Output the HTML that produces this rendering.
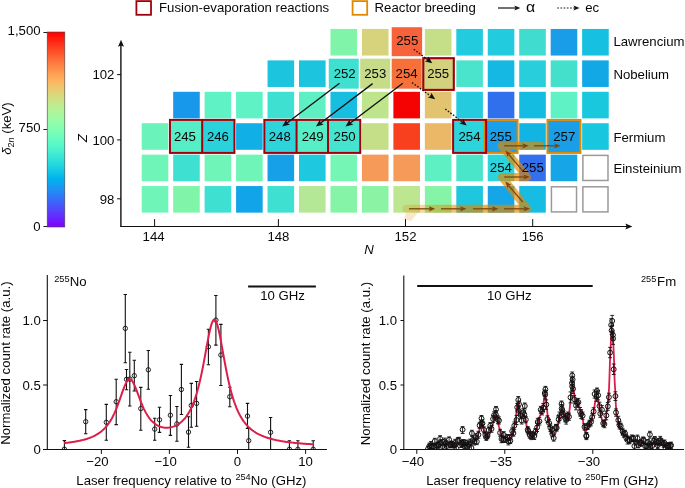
<!DOCTYPE html><html><head><meta charset="utf-8"><style>html,body{margin:0;padding:0;background:#fff;}svg{display:block;will-change:transform;}text{font-family:"Liberation Sans",sans-serif;fill:#080808;}</style></head><body>
<svg width="685" height="488" viewBox="0 0 685 488">
<defs><linearGradient id="cb" x1="0" y1="0" x2="0" y2="1"><stop offset="0.00" stop-color="#ff0000"/><stop offset="0.05" stop-color="#ff2814"/><stop offset="0.10" stop-color="#ff4f28"/><stop offset="0.15" stop-color="#ff743c"/><stop offset="0.20" stop-color="#ff964f"/><stop offset="0.25" stop-color="#ffb462"/><stop offset="0.30" stop-color="#e5ce74"/><stop offset="0.35" stop-color="#cce385"/><stop offset="0.40" stop-color="#b3f396"/><stop offset="0.45" stop-color="#99fca6"/><stop offset="0.50" stop-color="#80ffb4"/><stop offset="0.55" stop-color="#66fcc2"/><stop offset="0.60" stop-color="#4df3ce"/><stop offset="0.65" stop-color="#33e3d9"/><stop offset="0.70" stop-color="#1acee3"/><stop offset="0.75" stop-color="#00b4ec"/><stop offset="0.80" stop-color="#1a96f3"/><stop offset="0.85" stop-color="#3374f8"/><stop offset="0.90" stop-color="#4d4ffc"/><stop offset="0.95" stop-color="#6628fe"/><stop offset="1.00" stop-color="#8000ff"/></linearGradient><linearGradient id="bandfade" gradientUnits="userSpaceOnUse" x1="402" y1="0" x2="475" y2="0"><stop offset="0" stop-color="#e08800" stop-opacity="0.22"/><stop offset="1" stop-color="#e08800" stop-opacity="0.66"/></linearGradient><clipPath id="cl"><rect x="47.3" y="270" width="280" height="179.3"/></clipPath><clipPath id="cr"><rect x="403.8" y="270" width="280" height="179.3"/></clipPath></defs>
<rect x="47.2" y="32" width="17.6" height="195" fill="url(#cb)" stroke="#444" stroke-width="0.6"/>
<line x1="43.4" y1="32.5" x2="47.2" y2="32.5" stroke="#222" stroke-width="1"/>
<text x="40.6" y="35.2" font-size="13.2" text-anchor="end">1,500</text>
<line x1="43.4" y1="129.5" x2="47.2" y2="129.5" stroke="#222" stroke-width="1"/>
<text x="40.6" y="132.0" font-size="13.2" text-anchor="end">750</text>
<line x1="43.4" y1="226.5" x2="47.2" y2="226.5" stroke="#222" stroke-width="1"/>
<text x="40.6" y="230.9" font-size="13.2" text-anchor="end">0</text>
<text transform="translate(10.6,128.5) rotate(-90)" font-size="13.2" text-anchor="middle"><tspan font-style="italic">δ</tspan><tspan font-size="9" dy="3">2</tspan><tspan font-size="9" font-style="italic">n</tspan><tspan dy="-3"> (keV)</tspan></text>
<rect x="136.4" y="1.1" width="14.6" height="13.7" fill="none" stroke="#a0000e" stroke-width="1.8"/>
<text x="159" y="11.7" font-size="13.2">Fusion-evaporation reactions</text>
<rect x="352.6" y="1.1" width="14.6" height="13.7" fill="none" stroke="#e08a00" stroke-width="1.8"/>
<text x="374.6" y="11.7" font-size="13.2">Reactor breeding</text>
<line x1="498.0" y1="8.0" x2="515.5" y2="8.0" stroke="#111" stroke-width="1.2"/><path d="M520.3,8.0 L514.3,10.6 L515.5,8.0 L514.3,5.4Z" fill="#111"/>
<text transform="translate(526,11.7) scale(1.15,1)" x="0" y="0" font-size="13.8">α</text>
<line x1="557.3" y1="8.0" x2="574.7" y2="8.0" stroke="#111" stroke-width="1.2" stroke-dasharray="1.6,1.6"/><path d="M579.5,8.0 L573.5,10.6 L574.7,8.0 L573.5,5.4Z" fill="#111"/>
<text x="585.2" y="11.7" font-size="13.2">ec</text>
<rect x="330.46" y="28.95" width="26.6" height="26.6" fill="#80f5aa"/>
<rect x="361.92" y="28.95" width="26.6" height="26.6" fill="#d6d37c"/>
<rect x="391.7" y="27.2" width="30.4" height="29" fill="#f8623a"/>
<rect x="424.84" y="28.95" width="26.6" height="26.6" fill="#c4df88"/>
<rect x="456.30" y="28.95" width="26.6" height="26.6" fill="#22cbdd"/>
<rect x="487.76" y="28.95" width="26.6" height="26.6" fill="#22cbdd"/>
<rect x="519.22" y="28.95" width="26.6" height="26.6" fill="#40dccf"/>
<rect x="550.68" y="28.95" width="26.6" height="26.6" fill="#1a9de8"/>
<rect x="582.14" y="28.95" width="26.6" height="26.6" fill="#16c0e0"/>
<rect x="267.54" y="60.37" width="26.6" height="26.6" fill="#1cc4de"/>
<rect x="299.00" y="60.37" width="26.6" height="26.6" fill="#1cc4de"/>
<rect x="328.76" y="58.67" width="30" height="30" fill="#40e0d0"/>
<rect x="360.22" y="58.67" width="30" height="30" fill="#c6dc88"/>
<rect x="391.68" y="58.67" width="30" height="30" fill="#f6703a"/>
<rect x="422.14" y="57.67" width="32" height="32" fill="#d2d27e"/>
<rect x="456.30" y="60.37" width="26.6" height="26.6" fill="#4ae4cc"/>
<rect x="487.76" y="60.37" width="26.6" height="26.6" fill="#14b8e2"/>
<rect x="519.22" y="60.37" width="26.6" height="26.6" fill="#28cedc"/>
<rect x="550.68" y="60.37" width="26.6" height="26.6" fill="#44e0cc"/>
<rect x="582.14" y="60.37" width="26.6" height="26.6" fill="#12a8e6"/>
<rect x="173.16" y="91.79" width="26.6" height="26.6" fill="#1898ea"/>
<rect x="204.62" y="91.79" width="26.6" height="26.6" fill="#5ef2c4"/>
<rect x="236.08" y="91.79" width="26.6" height="26.6" fill="#5ef2c4"/>
<rect x="267.54" y="91.79" width="26.6" height="26.6" fill="#3ee0d2"/>
<rect x="299.00" y="91.79" width="26.6" height="26.6" fill="#5eefc2"/>
<rect x="330.46" y="91.79" width="26.6" height="26.6" fill="#18bee0"/>
<rect x="361.92" y="91.79" width="26.6" height="26.6" fill="#bee48c"/>
<rect x="393.38" y="91.79" width="26.6" height="26.6" fill="#f50202"/>
<rect x="424.84" y="91.79" width="26.6" height="26.6" fill="#e2c470"/>
<rect x="456.30" y="91.79" width="26.6" height="26.6" fill="#24cadd"/>
<rect x="487.76" y="91.79" width="26.6" height="26.6" fill="#3070ec"/>
<rect x="519.22" y="91.79" width="26.6" height="26.6" fill="#14bce2"/>
<rect x="550.68" y="91.79" width="26.6" height="26.6" fill="#5ef2c4"/>
<rect x="582.14" y="91.79" width="26.6" height="26.6" fill="#1ac8de"/>
<rect x="141.70" y="123.21" width="26.6" height="26.6" fill="#6af4bc"/>
<rect x="170.46" y="120.51" width="32" height="32" fill="#56eec6"/>
<rect x="201.92" y="120.51" width="32" height="32" fill="#2ad2dc"/>
<rect x="236.08" y="123.21" width="26.6" height="26.6" fill="#10b0e6"/>
<rect x="264.84" y="120.51" width="32" height="32" fill="#2ed4db"/>
<rect x="296.30" y="120.51" width="32" height="32" fill="#56eec6"/>
<rect x="327.76" y="120.51" width="32" height="32" fill="#44e4cf"/>
<rect x="361.92" y="123.21" width="26.6" height="26.6" fill="#c4df88"/>
<rect x="393.38" y="123.21" width="26.6" height="26.6" fill="#f8401f"/>
<rect x="424.84" y="123.21" width="26.6" height="26.6" fill="#eab866"/>
<rect x="453.60" y="120.51" width="32" height="32" fill="#2ed4db"/>
<rect x="485.06" y="120.51" width="32" height="32" fill="#1aa0e8"/>
<rect x="519.22" y="123.21" width="26.6" height="26.6" fill="#12b4e4"/>
<rect x="547.98" y="120.51" width="32" height="32" fill="#1a9ee8"/>
<rect x="582.14" y="123.21" width="26.6" height="26.6" fill="#18c6df"/>
<rect x="141.70" y="154.63" width="26.6" height="26.6" fill="#70f5b8"/>
<rect x="173.16" y="154.63" width="26.6" height="26.6" fill="#3ee0d2"/>
<rect x="204.62" y="154.63" width="26.6" height="26.6" fill="#70f5b8"/>
<rect x="236.08" y="154.63" width="26.6" height="26.6" fill="#70f5b8"/>
<rect x="267.54" y="154.63" width="26.6" height="26.6" fill="#16a0e8"/>
<rect x="299.00" y="154.63" width="26.6" height="26.6" fill="#1ec8de"/>
<rect x="330.46" y="154.63" width="26.6" height="26.6" fill="#76f6b4"/>
<rect x="361.92" y="154.63" width="26.6" height="26.6" fill="#f59a58"/>
<rect x="393.38" y="154.63" width="26.6" height="26.6" fill="#f59a58"/>
<rect x="424.84" y="154.63" width="26.6" height="26.6" fill="#5ef0c2"/>
<rect x="456.30" y="154.63" width="26.6" height="26.6" fill="#4ae6ca"/>
<rect x="487.76" y="154.63" width="26.6" height="26.6" fill="#2ed4db"/>
<rect x="519.22" y="154.63" width="26.6" height="26.6" fill="#3470ec"/>
<rect x="550.68" y="154.63" width="26.6" height="26.6" fill="#16a6e7"/>
<rect x="582.89" y="155.38" width="25.1" height="25.1" fill="#fff" stroke="#9a9a9a" stroke-width="1.5"/>
<rect x="141.70" y="186.05" width="26.6" height="26.6" fill="#70f5b8"/>
<rect x="173.16" y="186.05" width="26.6" height="26.6" fill="#80f5aa"/>
<rect x="204.62" y="186.05" width="26.6" height="26.6" fill="#3ee0d2"/>
<rect x="236.08" y="186.05" width="26.6" height="26.6" fill="#12a4e8"/>
<rect x="267.54" y="186.05" width="26.6" height="26.6" fill="#3ee0d2"/>
<rect x="299.00" y="186.05" width="26.6" height="26.6" fill="#b4e896"/>
<rect x="330.46" y="186.05" width="26.6" height="26.6" fill="#86f4a6"/>
<rect x="361.92" y="186.05" width="26.6" height="26.6" fill="#8af4a4"/>
<rect x="393.38" y="186.05" width="26.6" height="26.6" fill="#bce690"/>
<rect x="424.84" y="186.05" width="26.6" height="26.6" fill="#86f4a6"/>
<rect x="456.30" y="186.05" width="26.6" height="26.6" fill="#1ec6de"/>
<rect x="487.76" y="186.05" width="26.6" height="26.6" fill="#16a6e7"/>
<rect x="519.22" y="186.05" width="26.6" height="26.6" fill="#16bce2"/>
<rect x="551.43" y="186.80" width="25.1" height="25.1" fill="#fff" stroke="#9a9a9a" stroke-width="1.5"/>
<rect x="582.89" y="186.80" width="25.1" height="25.1" fill="#fff" stroke="#9a9a9a" stroke-width="1.5"/>
<path d="M406,213 L417.5,213 L411,221 L404,219Z" fill="#fbe6cc"/>
<path d="M406.4,208.8 H527 L502,177 H527 L501.6,145.8 H540" fill="none" stroke="url(#bandfade)" stroke-width="8" stroke-linejoin="round" stroke-linecap="round"/>
<rect x="484.56" y="119.91" width="33.00" height="33" fill="none" stroke="#e08a00" stroke-width="2.0"/>
<rect x="547.48" y="119.91" width="33.00" height="33" fill="none" stroke="#e08a00" stroke-width="2.0"/>
<rect x="169.96" y="119.91" width="64.46" height="33" fill="none" stroke="#a0000e" stroke-width="2.0"/><line x1="202.19" y1="119.91" x2="202.19" y2="152.91" stroke="#a0000e" stroke-width="2.0"/>
<rect x="264.34" y="119.91" width="95.92" height="33" fill="none" stroke="#a0000e" stroke-width="2.0"/><line x1="296.57" y1="119.91" x2="296.57" y2="152.91" stroke="#a0000e" stroke-width="2.0"/><line x1="328.03" y1="119.91" x2="328.03" y2="152.91" stroke="#a0000e" stroke-width="2.0"/>
<rect x="453.10" y="119.91" width="33.00" height="33" fill="none" stroke="#a0000e" stroke-width="2.0"/>
<rect x="423.3" y="58.2" width="30.5" height="31.7" fill="none" stroke="#a0000e" stroke-width="2.1"/>
<line x1="409.0" y1="208.8" x2="430.1" y2="208.8" stroke="#80460c" stroke-width="1.3"/><path d="M435.3,208.8 L428.8,211.4 L430.1,208.8 L428.8,206.2Z" fill="#80460c"/>
<line x1="441.0" y1="208.8" x2="461.3" y2="208.8" stroke="#80460c" stroke-width="1.3"/><path d="M466.5,208.8 L460.0,211.4 L461.3,208.8 L460.0,206.2Z" fill="#80460c"/>
<line x1="473.0" y1="208.8" x2="493.3" y2="208.8" stroke="#80460c" stroke-width="1.3"/><path d="M498.5,208.8 L492.0,211.4 L493.3,208.8 L492.0,206.2Z" fill="#80460c"/>
<line x1="504.0" y1="208.8" x2="524.8" y2="208.8" stroke="#80460c" stroke-width="1.3"/><path d="M530.0,208.8 L523.5,211.4 L524.8,208.8 L523.5,206.2Z" fill="#80460c"/>
<line x1="522.7" y1="202.0" x2="508.7" y2="185.6" stroke="#80460c" stroke-width="1.3"/><path d="M505.3,181.6 L511.5,184.9 L508.7,185.6 L507.5,188.2Z" fill="#80460c"/>
<line x1="504.2" y1="177.0" x2="524.7" y2="177.0" stroke="#80460c" stroke-width="1.3"/><path d="M529.9,177.0 L523.4,179.6 L524.7,177.0 L523.4,174.4Z" fill="#80460c"/>
<line x1="522.7" y1="170.9" x2="508.7" y2="154.4" stroke="#80460c" stroke-width="1.3"/><path d="M505.3,150.4 L511.5,153.7 L508.7,154.4 L507.5,157.0Z" fill="#80460c"/>
<line x1="504.2" y1="145.8" x2="523.6" y2="145.8" stroke="#80460c" stroke-width="1.3"/><path d="M528.8,145.8 L522.3,148.4 L523.6,145.8 L522.3,143.2Z" fill="#80460c"/>
<line x1="534.0" y1="145.8" x2="555.5" y2="145.8" stroke="#80460c" stroke-width="1.3"/><path d="M560.7,145.8 L554.2,148.4 L555.5,145.8 L554.2,143.2Z" fill="#80460c"/>
<text x="407.28" y="45.35" font-size="13.2" text-anchor="middle">255</text>
<text x="344.71" y="77.77" font-size="13.2" text-anchor="middle">252</text>
<text x="375.27" y="77.77" font-size="13.2" text-anchor="middle">253</text>
<text x="406.63" y="77.77" font-size="13.2" text-anchor="middle">254</text>
<text x="438.19" y="78.07" font-size="13.2" text-anchor="middle">255</text>
<text x="184.91" y="141.21" font-size="13.2" text-anchor="middle">245</text>
<text x="217.92" y="141.21" font-size="13.2" text-anchor="middle">246</text>
<text x="279.79" y="141.21" font-size="13.2" text-anchor="middle">248</text>
<text x="312.70" y="141.21" font-size="13.2" text-anchor="middle">249</text>
<text x="344.56" y="141.21" font-size="13.2" text-anchor="middle">250</text>
<text x="469.55" y="140.81" font-size="13.2" text-anchor="middle">254</text>
<text x="500.76" y="141.01" font-size="13.2" text-anchor="middle">255</text>
<text x="564.23" y="141.01" font-size="13.2" text-anchor="middle">257</text>
<text x="500.81" y="171.63" font-size="13.2" text-anchor="middle">254</text>
<text x="532.77" y="171.63" font-size="13.2" text-anchor="middle">255</text>
<line x1="339.5" y1="83.2" x2="287.0" y2="123.0" stroke="#111" stroke-width="1.35"/><path d="M282.2,126.6 L286.3,119.6 L287.0,123.0 L290.1,124.5Z" fill="#111"/>
<line x1="372.6" y1="83.6" x2="320.7" y2="123.0" stroke="#111" stroke-width="1.35"/><path d="M315.9,126.6 L320.0,119.6 L320.7,123.0 L323.7,124.5Z" fill="#111"/>
<line x1="402.8" y1="83.2" x2="350.3" y2="123.0" stroke="#111" stroke-width="1.35"/><path d="M345.5,126.6 L349.6,119.6 L350.3,123.0 L353.4,124.5Z" fill="#111"/>
<line x1="413.8" y1="49.3" x2="427.8" y2="59.8" stroke="#111" stroke-width="1.3" stroke-dasharray="1.6,1.6"/><path d="M432.3,63.2 L424.9,61.4 L427.8,59.8 L428.5,56.6Z" fill="#111"/>
<line x1="412.0" y1="82.6" x2="430.7" y2="96.0" stroke="#111" stroke-width="1.3" stroke-dasharray="1.6,1.6"/><path d="M435.2,99.3 L427.8,97.6 L430.7,96.0 L431.3,92.8Z" fill="#111"/>
<line x1="445.3" y1="109.0" x2="462.3" y2="122.0" stroke="#111" stroke-width="1.3" stroke-dasharray="1.6,1.6"/><path d="M466.7,125.4 L459.3,123.5 L462.3,122.0 L463.0,118.8Z" fill="#111"/>
<text x="613.4" y="46" font-size="13.2">Lawrencium</text>
<text x="613.4" y="79.2" font-size="13.2">Nobelium</text>
<text x="613.4" y="141.5" font-size="13.2">Fermium</text>
<text x="613.4" y="172.6" font-size="13.2">Einsteinium</text>
<line x1="120.9" y1="45" x2="120.9" y2="227" stroke="#111" stroke-width="1.4"/>
<path d="M121,39.8 L124,46.8 L121,45.6 L118,46.8Z" fill="#111"/>
<line x1="120.4" y1="226.5" x2="627" y2="226.5" stroke="#111" stroke-width="1.2"/>
<path d="M632.4,226.5 L625.4,223.6 L626.6,226.5 L625.4,229.4Z" fill="#111"/>
<line x1="117.1" y1="74.6" x2="121" y2="74.6" stroke="#111" stroke-width="1"/>
<text x="114.4" y="79.3" font-size="13.2" text-anchor="end">102</text>
<line x1="117.1" y1="139.9" x2="121" y2="139.9" stroke="#111" stroke-width="1"/>
<text x="114.4" y="144.6" font-size="13.2" text-anchor="end">100</text>
<line x1="117.1" y1="198.8" x2="121" y2="198.8" stroke="#111" stroke-width="1"/>
<text x="114.4" y="203.5" font-size="13.2" text-anchor="end">98</text>
<line x1="154.6" y1="219.1" x2="154.6" y2="226.5" stroke="#111" stroke-width="1"/>
<text x="153.6" y="240.7" font-size="13.2" text-anchor="middle">144</text>
<line x1="278.4" y1="219.1" x2="278.4" y2="226.5" stroke="#111" stroke-width="1"/>
<text x="278.4" y="240.7" font-size="13.2" text-anchor="middle">148</text>
<line x1="405.5" y1="219.1" x2="405.5" y2="226.5" stroke="#111" stroke-width="1"/>
<text x="405.5" y="240.7" font-size="13.2" text-anchor="middle">152</text>
<line x1="532.7" y1="219.1" x2="532.7" y2="226.5" stroke="#111" stroke-width="1"/>
<text x="532.7" y="240.7" font-size="13.2" text-anchor="middle">156</text>
<text transform="translate(87.4,138.1) rotate(-90)" font-size="13.2" font-style="italic" text-anchor="middle">Z</text>
<text x="364.2" y="254.1" font-size="13.2" font-style="italic">N</text>
<line x1="47.3" y1="275" x2="47.3" y2="450" stroke="#111" stroke-width="1.1"/>
<line x1="43" y1="449.5" x2="326.8" y2="449.5" stroke="#111" stroke-width="1.1"/>
<line x1="43.1" y1="320.5" x2="47.3" y2="320.5" stroke="#111" stroke-width="1"/>
<text x="40.8" y="325.2" font-size="13.2" text-anchor="end">1.0</text>
<line x1="43.1" y1="385.0" x2="47.3" y2="385.0" stroke="#111" stroke-width="1"/>
<text x="40.8" y="389.7" font-size="13.2" text-anchor="end">0.5</text>
<line x1="43.1" y1="449.5" x2="47.3" y2="449.5" stroke="#111" stroke-width="1"/>
<text x="40.8" y="454.2" font-size="13.2" text-anchor="end">0</text>
<line x1="101.4" y1="449.5" x2="101.4" y2="453.9" stroke="#111" stroke-width="1"/>
<text x="108.7" y="466.3" font-size="13.2" text-anchor="end">−20</text>
<line x1="169.4" y1="449.5" x2="169.4" y2="453.9" stroke="#111" stroke-width="1"/>
<text x="176.8" y="466.3" font-size="13.2" text-anchor="end">−10</text>
<line x1="237.5" y1="449.5" x2="237.5" y2="453.9" stroke="#111" stroke-width="1"/>
<text x="237.5" y="466.3" font-size="13.2" text-anchor="middle">0</text>
<line x1="305.6" y1="449.5" x2="305.6" y2="453.9" stroke="#111" stroke-width="1"/>
<text x="305.6" y="466.3" font-size="13.2" text-anchor="middle">10</text>
<text transform="translate(10,363.1) rotate(-90)" font-size="13.2" text-anchor="middle">Normalized count rate (a.u.)</text>
<text x="76.3" y="484.6" font-size="13.2">Laser frequency relative to <tspan font-size="9.2" dy="-4.5">254</tspan><tspan dy="4.5">No (GHz)</tspan></text>
<line x1="248.1" y1="286.6" x2="315.9" y2="286.6" stroke="#111" stroke-width="2"/>
<text x="282.5" y="300.2" font-size="13.2" text-anchor="middle">10 GHz</text>
<text x="54.2" y="282.1" font-size="9.2">255</text><text x="69.8" y="286.2" font-size="13.2">No</text>
<g clip-path="url(#cl)">
<line x1="64.4" y1="440.6" x2="64.4" y2="449.5" stroke="#111" stroke-width="1.1"/><line x1="62.7" y1="440.6" x2="66.10000000000001" y2="440.6" stroke="#111" stroke-width="1.1"/><line x1="62.7" y1="449.5" x2="66.10000000000001" y2="449.5" stroke="#111" stroke-width="1.1"/><circle cx="64.4" cy="449.2" r="2.2" fill="none" stroke="#111" stroke-width="0.9"/>
<line x1="85.7" y1="409.6" x2="85.7" y2="433.7" stroke="#111" stroke-width="1.1"/><line x1="84.0" y1="409.6" x2="87.4" y2="409.6" stroke="#111" stroke-width="1.1"/><line x1="84.0" y1="433.7" x2="87.4" y2="433.7" stroke="#111" stroke-width="1.1"/><circle cx="85.7" cy="421.7" r="2.2" fill="none" stroke="#111" stroke-width="0.9"/>
<line x1="106.3" y1="404.4" x2="106.3" y2="440.3" stroke="#111" stroke-width="1.1"/><line x1="104.6" y1="404.4" x2="108.0" y2="404.4" stroke="#111" stroke-width="1.1"/><line x1="104.6" y1="440.3" x2="108.0" y2="440.3" stroke="#111" stroke-width="1.1"/><circle cx="106.3" cy="422.3" r="2.2" fill="none" stroke="#111" stroke-width="0.9"/>
<line x1="116.2" y1="379.3" x2="116.2" y2="424.6" stroke="#111" stroke-width="1.1"/><line x1="114.5" y1="379.3" x2="117.9" y2="379.3" stroke="#111" stroke-width="1.1"/><line x1="114.5" y1="424.6" x2="117.9" y2="424.6" stroke="#111" stroke-width="1.1"/><circle cx="116.2" cy="401.7" r="2.2" fill="none" stroke="#111" stroke-width="0.9"/>
<line x1="125.3" y1="294.5" x2="125.3" y2="362.7" stroke="#111" stroke-width="1.1"/><line x1="123.6" y1="294.5" x2="127.0" y2="294.5" stroke="#111" stroke-width="1.1"/><line x1="123.6" y1="362.7" x2="127.0" y2="362.7" stroke="#111" stroke-width="1.1"/><circle cx="125.3" cy="328.4" r="2.2" fill="none" stroke="#111" stroke-width="0.9"/>
<line x1="126.5" y1="369.5" x2="126.5" y2="389.8" stroke="#111" stroke-width="1.1"/><line x1="124.8" y1="369.5" x2="128.2" y2="369.5" stroke="#111" stroke-width="1.1"/><line x1="124.8" y1="389.8" x2="128.2" y2="389.8" stroke="#111" stroke-width="1.1"/><circle cx="126.5" cy="379.3" r="2.2" fill="none" stroke="#111" stroke-width="0.9"/>
<line x1="129.8" y1="352.3" x2="129.8" y2="406" stroke="#111" stroke-width="1.1"/><line x1="128.10000000000002" y1="352.3" x2="131.5" y2="352.3" stroke="#111" stroke-width="1.1"/><line x1="128.10000000000002" y1="406" x2="131.5" y2="406" stroke="#111" stroke-width="1.1"/><circle cx="129.8" cy="379.1" r="2.2" fill="none" stroke="#111" stroke-width="0.9"/>
<line x1="134.3" y1="360.3" x2="134.3" y2="391" stroke="#111" stroke-width="1.1"/><line x1="132.60000000000002" y1="360.3" x2="136.0" y2="360.3" stroke="#111" stroke-width="1.1"/><line x1="132.60000000000002" y1="391" x2="136.0" y2="391" stroke="#111" stroke-width="1.1"/><circle cx="134.3" cy="375.7" r="2.2" fill="none" stroke="#111" stroke-width="0.9"/>
<line x1="140.8" y1="387.4" x2="140.8" y2="430.2" stroke="#111" stroke-width="1.1"/><line x1="139.10000000000002" y1="387.4" x2="142.5" y2="387.4" stroke="#111" stroke-width="1.1"/><line x1="139.10000000000002" y1="430.2" x2="142.5" y2="430.2" stroke="#111" stroke-width="1.1"/><circle cx="140.8" cy="408.6" r="2.2" fill="none" stroke="#111" stroke-width="0.9"/>
<line x1="148.3" y1="350.5" x2="148.3" y2="389.3" stroke="#111" stroke-width="1.1"/><line x1="146.60000000000002" y1="350.5" x2="150.0" y2="350.5" stroke="#111" stroke-width="1.1"/><line x1="146.60000000000002" y1="389.3" x2="150.0" y2="389.3" stroke="#111" stroke-width="1.1"/><circle cx="148.3" cy="369.8" r="2.2" fill="none" stroke="#111" stroke-width="0.9"/>
<line x1="154.7" y1="418.3" x2="154.7" y2="440.3" stroke="#111" stroke-width="1.1"/><line x1="153.0" y1="418.3" x2="156.39999999999998" y2="418.3" stroke="#111" stroke-width="1.1"/><line x1="153.0" y1="440.3" x2="156.39999999999998" y2="440.3" stroke="#111" stroke-width="1.1"/><circle cx="154.7" cy="429.1" r="2.2" fill="none" stroke="#111" stroke-width="0.9"/>
<line x1="159.5" y1="407.3" x2="159.5" y2="432.4" stroke="#111" stroke-width="1.1"/><line x1="157.8" y1="407.3" x2="161.2" y2="407.3" stroke="#111" stroke-width="1.1"/><line x1="157.8" y1="432.4" x2="161.2" y2="432.4" stroke="#111" stroke-width="1.1"/><circle cx="159.5" cy="419.8" r="2.2" fill="none" stroke="#111" stroke-width="0.9"/>
<line x1="170.4" y1="395.5" x2="170.4" y2="435.4" stroke="#111" stroke-width="1.1"/><line x1="168.70000000000002" y1="395.5" x2="172.1" y2="395.5" stroke="#111" stroke-width="1.1"/><line x1="168.70000000000002" y1="435.4" x2="172.1" y2="435.4" stroke="#111" stroke-width="1.1"/><circle cx="170.4" cy="415.2" r="2.2" fill="none" stroke="#111" stroke-width="0.9"/>
<line x1="176.9" y1="406.5" x2="176.9" y2="441.3" stroke="#111" stroke-width="1.1"/><line x1="175.20000000000002" y1="406.5" x2="178.6" y2="406.5" stroke="#111" stroke-width="1.1"/><line x1="175.20000000000002" y1="441.3" x2="178.6" y2="441.3" stroke="#111" stroke-width="1.1"/><circle cx="176.9" cy="423.9" r="2.2" fill="none" stroke="#111" stroke-width="0.9"/>
<line x1="181.4" y1="364.4" x2="181.4" y2="414.5" stroke="#111" stroke-width="1.1"/><line x1="179.70000000000002" y1="364.4" x2="183.1" y2="364.4" stroke="#111" stroke-width="1.1"/><line x1="179.70000000000002" y1="414.5" x2="183.1" y2="414.5" stroke="#111" stroke-width="1.1"/><circle cx="181.4" cy="389.5" r="2.2" fill="none" stroke="#111" stroke-width="0.9"/>
<line x1="188.5" y1="416.8" x2="188.5" y2="447.2" stroke="#111" stroke-width="1.1"/><line x1="186.8" y1="416.8" x2="190.2" y2="416.8" stroke="#111" stroke-width="1.1"/><line x1="186.8" y1="447.2" x2="190.2" y2="447.2" stroke="#111" stroke-width="1.1"/><circle cx="188.5" cy="432.1" r="2.2" fill="none" stroke="#111" stroke-width="0.9"/>
<line x1="191.3" y1="383.4" x2="191.3" y2="427.3" stroke="#111" stroke-width="1.1"/><line x1="189.60000000000002" y1="383.4" x2="193.0" y2="383.4" stroke="#111" stroke-width="1.1"/><line x1="189.60000000000002" y1="427.3" x2="193.0" y2="427.3" stroke="#111" stroke-width="1.1"/><circle cx="191.3" cy="405.5" r="2.2" fill="none" stroke="#111" stroke-width="0.9"/>
<line x1="196.6" y1="381.5" x2="196.6" y2="426.2" stroke="#111" stroke-width="1.1"/><line x1="194.9" y1="381.5" x2="198.29999999999998" y2="381.5" stroke="#111" stroke-width="1.1"/><line x1="194.9" y1="426.2" x2="198.29999999999998" y2="426.2" stroke="#111" stroke-width="1.1"/><circle cx="196.6" cy="403.4" r="2.2" fill="none" stroke="#111" stroke-width="0.9"/>
<line x1="208.4" y1="329.3" x2="208.4" y2="364.8" stroke="#111" stroke-width="1.1"/><line x1="206.70000000000002" y1="329.3" x2="210.1" y2="329.3" stroke="#111" stroke-width="1.1"/><line x1="206.70000000000002" y1="364.8" x2="210.1" y2="364.8" stroke="#111" stroke-width="1.1"/><circle cx="208.4" cy="346.8" r="2.2" fill="none" stroke="#111" stroke-width="0.9"/>
<line x1="215.9" y1="295.5" x2="215.9" y2="345.1" stroke="#111" stroke-width="1.1"/><line x1="214.20000000000002" y1="295.5" x2="217.6" y2="295.5" stroke="#111" stroke-width="1.1"/><line x1="214.20000000000002" y1="345.1" x2="217.6" y2="345.1" stroke="#111" stroke-width="1.1"/><circle cx="215.9" cy="320.1" r="2.2" fill="none" stroke="#111" stroke-width="0.9"/>
<line x1="220.9" y1="324.4" x2="220.9" y2="385.5" stroke="#111" stroke-width="1.1"/><line x1="219.20000000000002" y1="324.4" x2="222.6" y2="324.4" stroke="#111" stroke-width="1.1"/><line x1="219.20000000000002" y1="385.5" x2="222.6" y2="385.5" stroke="#111" stroke-width="1.1"/><circle cx="220.9" cy="355" r="2.2" fill="none" stroke="#111" stroke-width="0.9"/>
<line x1="229.8" y1="387.2" x2="229.8" y2="406.8" stroke="#111" stroke-width="1.1"/><line x1="228.10000000000002" y1="387.2" x2="231.5" y2="387.2" stroke="#111" stroke-width="1.1"/><line x1="228.10000000000002" y1="406.8" x2="231.5" y2="406.8" stroke="#111" stroke-width="1.1"/><circle cx="229.8" cy="396.8" r="2.2" fill="none" stroke="#111" stroke-width="0.9"/>
<line x1="247.5" y1="403.4" x2="247.5" y2="428.4" stroke="#111" stroke-width="1.1"/><line x1="245.8" y1="403.4" x2="249.2" y2="403.4" stroke="#111" stroke-width="1.1"/><line x1="245.8" y1="428.4" x2="249.2" y2="428.4" stroke="#111" stroke-width="1.1"/><circle cx="247.5" cy="416.1" r="2.2" fill="none" stroke="#111" stroke-width="0.9"/>
<line x1="248.7" y1="428.4" x2="248.7" y2="449.5" stroke="#111" stroke-width="1.1"/><line x1="247.0" y1="428.4" x2="250.39999999999998" y2="428.4" stroke="#111" stroke-width="1.1"/><line x1="247.0" y1="449.5" x2="250.39999999999998" y2="449.5" stroke="#111" stroke-width="1.1"/><circle cx="248.7" cy="440.7" r="2.2" fill="none" stroke="#111" stroke-width="0.9"/>
<line x1="270.6" y1="417.5" x2="270.6" y2="449.5" stroke="#111" stroke-width="1.1"/><line x1="268.90000000000003" y1="417.5" x2="272.3" y2="417.5" stroke="#111" stroke-width="1.1"/><line x1="268.90000000000003" y1="449.5" x2="272.3" y2="449.5" stroke="#111" stroke-width="1.1"/><circle cx="270.6" cy="432.3" r="2.2" fill="none" stroke="#111" stroke-width="0.9"/>
<line x1="289.4" y1="440.7" x2="289.4" y2="449.5" stroke="#111" stroke-width="1.1"/><line x1="287.7" y1="440.7" x2="291.09999999999997" y2="440.7" stroke="#111" stroke-width="1.1"/><line x1="287.7" y1="449.5" x2="291.09999999999997" y2="449.5" stroke="#111" stroke-width="1.1"/><circle cx="289.4" cy="449.3" r="2.2" fill="none" stroke="#111" stroke-width="0.9"/>
<line x1="297.9" y1="440.7" x2="297.9" y2="449.5" stroke="#111" stroke-width="1.1"/><line x1="296.2" y1="440.7" x2="299.59999999999997" y2="440.7" stroke="#111" stroke-width="1.1"/><line x1="296.2" y1="449.5" x2="299.59999999999997" y2="449.5" stroke="#111" stroke-width="1.1"/><circle cx="297.9" cy="449.3" r="2.2" fill="none" stroke="#111" stroke-width="0.9"/>
<line x1="313.2" y1="440.7" x2="313.2" y2="449.5" stroke="#111" stroke-width="1.1"/><line x1="311.5" y1="440.7" x2="314.9" y2="440.7" stroke="#111" stroke-width="1.1"/><line x1="311.5" y1="449.5" x2="314.9" y2="449.5" stroke="#111" stroke-width="1.1"/><circle cx="313.2" cy="449.3" r="2.2" fill="none" stroke="#111" stroke-width="0.9"/>
<path d="M64.00,443.11 L64.83,443.02 L65.67,442.93 L66.50,442.83 L67.33,442.73 L68.17,442.63 L69.00,442.52 L69.83,442.41 L70.67,442.29 L71.50,442.17 L72.33,442.05 L73.17,441.92 L74.00,441.79 L74.83,441.65 L75.67,441.50 L76.50,441.35 L77.34,441.20 L78.17,441.04 L79.00,440.87 L79.84,440.69 L80.67,440.50 L81.50,440.31 L82.34,440.11 L83.17,439.90 L84.00,439.68 L84.84,439.45 L85.67,439.21 L86.50,438.96 L87.34,438.70 L88.17,438.42 L89.00,438.13 L89.84,437.82 L90.67,437.50 L91.50,437.16 L92.34,436.81 L93.17,436.43 L94.00,436.03 L94.84,435.62 L95.67,435.17 L96.50,434.71 L97.34,434.21 L98.17,433.69 L99.00,433.13 L99.84,432.54 L100.67,431.92 L101.51,431.25 L102.34,430.55 L103.17,429.80 L104.01,429.00 L104.84,428.14 L105.67,427.23 L106.51,426.27 L107.34,425.23 L108.17,424.13 L109.01,422.95 L109.84,421.70 L110.67,420.36 L111.51,418.93 L112.34,417.41 L113.17,415.80 L114.01,414.08 L114.84,412.26 L115.67,410.34 L116.51,408.32 L117.34,406.20 L118.17,404.00 L119.01,401.71 L119.84,399.36 L120.67,396.97 L121.51,394.57 L122.34,392.18 L123.17,389.86 L124.01,387.65 L124.84,385.59 L125.67,383.75 L126.51,382.16 L127.34,380.89 L128.18,379.97 L129.01,379.44 L129.84,379.30 L130.68,379.57 L131.51,380.22 L132.34,381.24 L133.18,382.59 L134.01,384.21 L134.84,386.06 L135.68,388.08 L136.51,390.23 L137.34,392.45 L138.18,394.71 L139.01,396.96 L139.84,399.17 L140.68,401.33 L141.51,403.42 L142.34,405.41 L143.18,407.31 L144.01,409.10 L144.84,410.79 L145.68,412.37 L146.51,413.85 L147.34,415.22 L148.18,416.50 L149.01,417.69 L149.84,418.79 L150.68,419.80 L151.51,420.73 L152.35,421.58 L153.18,422.37 L154.01,423.08 L154.85,423.73 L155.68,424.33 L156.51,424.86 L157.35,425.34 L158.18,425.77 L159.01,426.15 L159.85,426.49 L160.68,426.78 L161.51,427.03 L162.35,427.24 L163.18,427.41 L164.01,427.54 L164.85,427.64 L165.68,427.70 L166.51,427.72 L167.35,427.71 L168.18,427.66 L169.01,427.58 L169.85,427.46 L170.68,427.31 L171.51,427.13 L172.35,426.90 L173.18,426.65 L174.01,426.35 L174.85,426.01 L175.68,425.64 L176.52,425.22 L177.35,424.76 L178.18,424.26 L179.02,423.71 L179.85,423.11 L180.68,422.45 L181.52,421.75 L182.35,420.98 L183.18,420.15 L184.02,419.25 L184.85,418.29 L185.68,417.25 L186.52,416.12 L187.35,414.92 L188.18,413.62 L189.02,412.22 L189.85,410.71 L190.68,409.09 L191.52,407.35 L192.35,405.48 L193.18,403.47 L194.02,401.32 L194.85,399.00 L195.68,396.52 L196.52,393.86 L197.35,391.01 L198.18,387.97 L199.02,384.73 L199.85,381.28 L200.68,377.63 L201.52,373.77 L202.35,369.72 L203.19,365.50 L204.02,361.11 L204.85,356.61 L205.69,352.03 L206.52,347.43 L207.35,342.88 L208.19,338.47 L209.02,334.29 L209.85,330.44 L210.69,327.04 L211.52,324.19 L212.35,321.98 L213.19,320.50 L214.02,319.80 L214.85,319.91 L215.69,320.82 L216.52,322.51 L217.35,324.91 L218.19,327.94 L219.02,331.51 L219.85,335.49 L220.69,339.80 L221.52,344.31 L222.35,348.95 L223.19,353.63 L224.02,358.28 L224.85,362.85 L225.69,367.28 L226.52,371.56 L227.36,375.66 L228.19,379.56 L229.02,383.26 L229.86,386.76 L230.69,390.06 L231.52,393.15 L232.36,396.06 L233.19,398.78 L234.02,401.33 L234.86,403.72 L235.69,405.95 L236.52,408.04 L237.36,409.99 L238.19,411.82 L239.02,413.53 L239.86,415.13 L240.69,416.63 L241.52,418.03 L242.36,419.35 L243.19,420.59 L244.02,421.76 L244.86,422.85 L245.69,423.88 L246.52,424.85 L247.36,425.76 L248.19,426.62 L249.02,427.43 L249.86,428.20 L250.69,428.93 L251.53,429.62 L252.36,430.27 L253.19,430.88 L254.03,431.47 L254.86,432.02 L255.69,432.55 L256.53,433.05 L257.36,433.53 L258.19,433.98 L259.03,434.41 L259.86,434.82 L260.69,435.21 L261.53,435.59 L262.36,435.95 L263.19,436.29 L264.03,436.62 L264.86,436.93 L265.69,437.23 L266.53,437.51 L267.36,437.79 L268.19,438.05 L269.03,438.31 L269.86,438.55 L270.69,438.78 L271.53,439.01 L272.36,439.22 L273.19,439.43 L274.03,439.63 L274.86,439.82 L275.69,440.01 L276.53,440.18 L277.36,440.36 L278.20,440.52 L279.03,440.68 L279.86,440.84 L280.70,440.98 L281.53,441.13 L282.36,441.27 L283.20,441.40 L284.03,441.53 L284.86,441.66 L285.70,441.78 L286.53,441.90 L287.36,442.01 L288.20,442.12 L289.03,442.23 L289.86,442.34 L290.70,442.44 L291.53,442.53 L292.36,442.63 L293.20,442.72 L294.03,442.81 L294.86,442.90 L295.70,442.98 L296.53,443.07 L297.36,443.14 L298.20,443.22 L299.03,443.30 L299.86,443.37 L300.70,443.44 L301.53,443.51 L302.37,443.58 L303.20,443.65 L304.03,443.71 L304.87,443.77 L305.70,443.83 L306.53,443.89 L307.37,443.95 L308.20,444.01 L309.03,444.06 L309.87,444.12 L310.70,444.17 L311.53,444.22 L312.37,444.27 L313.20,444.32" fill="none" stroke="#dc1e4a" stroke-width="2"/>
</g>
<line x1="43" y1="449.5" x2="326.8" y2="449.5" stroke="#111" stroke-width="1.1"/>
<line x1="403.8" y1="275.5" x2="403.8" y2="450" stroke="#111" stroke-width="1.1"/>
<line x1="400" y1="449.5" x2="683.7" y2="449.5" stroke="#111" stroke-width="1.1"/>
<line x1="400.5" y1="320.5" x2="403.8" y2="320.5" stroke="#111" stroke-width="1"/>
<text x="397.1" y="325.2" font-size="13.2" text-anchor="end">1.0</text>
<line x1="400.5" y1="385.0" x2="403.8" y2="385.0" stroke="#111" stroke-width="1"/>
<text x="397.1" y="389.7" font-size="13.2" text-anchor="end">0.5</text>
<line x1="400.5" y1="449.5" x2="403.8" y2="449.5" stroke="#111" stroke-width="1"/>
<text x="397.1" y="454.2" font-size="13.2" text-anchor="end">0</text>
<line x1="416.8" y1="449.5" x2="416.8" y2="453.9" stroke="#111" stroke-width="1"/>
<text x="424.1" y="466.3" font-size="13.2" text-anchor="end">−40</text>
<line x1="504.8" y1="449.5" x2="504.8" y2="453.9" stroke="#111" stroke-width="1"/>
<text x="512.1" y="466.3" font-size="13.2" text-anchor="end">−35</text>
<line x1="592.8" y1="449.5" x2="592.8" y2="453.9" stroke="#111" stroke-width="1"/>
<text x="600.1" y="466.3" font-size="13.2" text-anchor="end">−30</text>
<text transform="translate(370.2,363.6) rotate(-90)" font-size="13.2" text-anchor="middle">Normalized count rate (a.u.)</text>
<text x="426.2" y="484.6" font-size="13.2">Laser frequency relative to <tspan font-size="9.2" dy="-4.5">250</tspan><tspan dy="4.5">Fm (GHz)</tspan></text>
<line x1="417.2" y1="286" x2="592.7" y2="286" stroke="#111" stroke-width="2"/>
<text x="509.3" y="300" font-size="13.2" text-anchor="middle">10 GHz</text>
<text x="641" y="282" font-size="9.2">255</text><text x="657.1" y="285.9" font-size="13.2">Fm</text>
<g clip-path="url(#cr)">
<path d="M428.00,445.10 L428.27,445.10 L428.54,445.09 L428.81,445.09 L429.08,445.08 L429.35,445.08 L429.62,445.08 L429.89,445.07 L430.16,445.07 L430.43,445.06 L430.71,445.06 L430.98,445.05 L431.25,445.05 L431.52,445.04 L431.79,445.03 L432.06,445.03 L432.33,445.02 L432.60,445.02 L432.87,445.01 L433.14,445.00 L433.41,445.00 L433.68,444.99 L433.95,444.98 L434.22,444.98 L434.49,444.97 L434.76,444.96 L435.03,444.95 L435.30,444.95 L435.57,444.94 L435.85,444.93 L436.12,444.92 L436.39,444.92 L436.66,444.91 L436.93,444.90 L437.20,444.89 L437.47,444.88 L437.74,444.87 L438.01,444.87 L438.28,444.86 L438.55,444.85 L438.82,444.84 L439.09,444.83 L439.36,444.82 L439.63,444.81 L439.90,444.80 L440.17,444.79 L440.44,444.78 L440.71,444.77 L440.99,444.76 L441.26,444.75 L441.53,444.74 L441.80,444.73 L442.07,444.72 L442.34,444.71 L442.61,444.70 L442.88,444.68 L443.15,444.67 L443.42,444.66 L443.69,444.64 L443.96,444.63 L444.23,444.62 L444.50,444.60 L444.77,444.59 L445.04,444.57 L445.31,444.56 L445.58,444.54 L445.85,444.53 L446.13,444.51 L446.40,444.50 L446.67,444.48 L446.94,444.47 L447.21,444.45 L447.48,444.43 L447.75,444.42 L448.02,444.40 L448.29,444.39 L448.56,444.37 L448.83,444.35 L449.10,444.34 L449.37,444.32 L449.64,444.30 L449.91,444.29 L450.18,444.27 L450.45,444.26 L450.72,444.24 L450.99,444.22 L451.26,444.21 L451.54,444.19 L451.81,444.18 L452.08,444.16 L452.35,444.14 L452.62,444.13 L452.89,444.11 L453.16,444.10 L453.43,444.08 L453.70,444.07 L453.97,444.05 L454.24,444.04 L454.51,444.03 L454.78,444.01 L455.05,444.00 L455.32,443.98 L455.59,443.97 L455.86,443.96 L456.13,443.95 L456.40,443.94 L456.68,443.92 L456.95,443.91 L457.22,443.90 L457.49,443.89 L457.76,443.88 L458.03,443.87 L458.30,443.86 L458.57,443.85 L458.84,443.84 L459.11,443.83 L459.38,443.82 L459.65,443.81 L459.92,443.80 L460.19,443.79 L460.46,443.78 L460.73,443.77 L461.00,443.76 L461.27,443.75 L461.54,443.73 L461.82,443.72 L462.09,443.71 L462.36,443.69 L462.63,443.68 L462.90,443.66 L463.17,443.65 L463.44,443.63 L463.71,443.61 L463.98,443.60 L464.25,443.58 L464.52,443.56 L464.79,443.53 L465.06,443.51 L465.33,443.49 L465.60,443.46 L465.87,443.43 L466.14,443.39 L466.41,443.36 L466.68,443.31 L466.96,443.27 L467.23,443.22 L467.50,443.16 L467.77,443.10 L468.04,443.04 L468.31,442.98 L468.58,442.91 L468.85,442.83 L469.12,442.76 L469.39,442.67 L469.66,442.59 L469.93,442.50 L470.20,442.41 L470.47,442.31 L470.74,442.21 L471.01,442.10 L471.28,441.99 L471.55,441.88 L471.82,441.76 L472.10,441.64 L472.37,441.52 L472.64,441.39 L472.91,441.25 L473.18,441.12 L473.45,440.97 L473.72,440.81 L473.99,440.61 L474.26,440.37 L474.53,440.11 L474.80,439.82 L475.07,439.50 L475.34,439.16 L475.61,438.80 L475.88,438.41 L476.15,438.01 L476.42,437.59 L476.69,437.16 L476.96,436.71 L477.24,436.25 L477.51,435.79 L477.78,435.24 L478.05,434.56 L478.32,433.76 L478.59,432.87 L478.86,431.91 L479.13,430.92 L479.40,429.90 L479.67,428.90 L479.94,427.92 L480.21,427.00 L480.48,426.16 L480.75,425.43 L481.02,424.82 L481.29,424.36 L481.56,424.08 L481.83,424.00 L482.10,424.21 L482.38,424.70 L482.65,425.43 L482.92,426.34 L483.19,427.37 L483.46,428.46 L483.73,429.57 L484.00,430.63 L484.27,431.60 L484.54,432.41 L484.81,433.04 L485.08,433.65 L485.35,434.27 L485.62,434.89 L485.89,435.48 L486.16,436.03 L486.43,436.52 L486.70,436.93 L486.97,437.24 L487.24,437.44 L487.52,437.50 L487.79,437.42 L488.06,437.21 L488.33,436.87 L488.60,436.43 L488.87,435.89 L489.14,435.27 L489.41,434.58 L489.68,433.84 L489.95,433.05 L490.22,432.24 L490.49,431.41 L490.76,430.58 L491.03,429.76 L491.30,428.96 L491.57,428.20 L491.84,427.49 L492.11,426.73 L492.38,425.87 L492.65,424.95 L492.93,423.97 L493.20,422.95 L493.47,421.92 L493.74,420.88 L494.01,419.87 L494.28,418.90 L494.55,417.98 L494.82,417.14 L495.09,416.39 L495.36,415.76 L495.63,415.25 L495.90,414.90 L496.17,414.72 L496.44,414.77 L496.71,415.26 L496.98,416.15 L497.25,417.35 L497.52,418.78 L497.79,420.34 L498.07,421.96 L498.34,423.54 L498.61,425.01 L498.88,426.27 L499.15,427.25 L499.42,428.11 L499.69,428.95 L499.96,429.78 L500.23,430.58 L500.50,431.36 L500.77,432.10 L501.04,432.81 L501.31,433.49 L501.58,434.12 L501.85,434.71 L502.12,435.25 L502.39,435.73 L502.66,436.16 L502.93,436.52 L503.21,436.84 L503.48,437.15 L503.75,437.46 L504.02,437.75 L504.29,438.04 L504.56,438.32 L504.83,438.58 L505.10,438.83 L505.37,439.06 L505.64,439.26 L505.91,439.45 L506.18,439.61 L506.45,439.75 L506.72,439.86 L506.99,439.94 L507.26,439.99 L507.53,440.00 L507.80,439.97 L508.07,439.91 L508.35,439.80 L508.62,439.66 L508.89,439.48 L509.16,439.27 L509.43,439.03 L509.70,438.76 L509.97,438.46 L510.24,438.13 L510.51,437.78 L510.78,437.41 L511.05,437.02 L511.32,436.61 L511.59,436.18 L511.86,435.73 L512.13,435.25 L512.40,434.59 L512.67,433.74 L512.94,432.72 L513.21,431.57 L513.49,430.29 L513.76,428.92 L514.03,427.48 L514.30,425.98 L514.57,424.45 L514.84,422.92 L515.11,421.40 L515.38,419.91 L515.65,418.28 L515.92,416.31 L516.19,414.12 L516.46,411.84 L516.73,409.60 L517.00,407.53 L517.27,405.75 L517.54,404.39 L517.81,403.57 L518.08,403.43 L518.35,403.94 L518.63,404.96 L518.90,406.39 L519.17,408.11 L519.44,409.99 L519.71,411.92 L519.98,413.79 L520.25,415.46 L520.52,416.83 L520.79,417.78 L521.06,418.19 L521.33,418.15 L521.60,417.97 L521.87,417.69 L522.14,417.34 L522.41,416.94 L522.68,416.52 L522.95,416.11 L523.22,415.74 L523.49,415.43 L523.77,415.21 L524.04,415.10 L524.31,415.23 L524.58,415.75 L524.85,416.61 L525.12,417.74 L525.39,419.07 L525.66,420.53 L525.93,422.06 L526.20,423.57 L526.47,425.02 L526.74,426.32 L527.01,427.40 L527.28,428.23 L527.55,428.98 L527.82,429.74 L528.09,430.50 L528.36,431.25 L528.63,431.99 L528.91,432.69 L529.18,433.37 L529.45,434.00 L529.72,434.58 L529.99,435.11 L530.26,435.56 L530.53,435.95 L530.80,436.25 L531.07,436.47 L531.34,436.58 L531.61,436.60 L531.88,436.55 L532.15,436.45 L532.42,436.31 L532.69,436.13 L532.96,435.91 L533.23,435.66 L533.50,435.39 L533.77,435.09 L534.04,434.78 L534.32,434.45 L534.59,434.12 L534.86,433.71 L535.13,433.15 L535.40,432.45 L535.67,431.65 L535.94,430.73 L536.21,429.74 L536.48,428.67 L536.75,427.56 L537.02,426.40 L537.29,425.23 L537.56,424.05 L537.83,422.88 L538.10,421.74 L538.37,420.64 L538.64,419.61 L538.91,418.65 L539.18,417.78 L539.46,417.01 L539.73,416.36 L540.00,415.80 L540.27,415.30 L540.54,414.83 L540.81,414.40 L541.08,413.95 L541.35,413.49 L541.62,412.99 L541.89,412.42 L542.16,411.77 L542.43,411.01 L542.70,409.96 L542.97,408.31 L543.24,406.21 L543.51,403.85 L543.78,401.42 L544.05,399.10 L544.32,397.09 L544.60,395.56 L544.87,394.71 L545.14,394.72 L545.41,395.59 L545.68,397.18 L545.95,399.32 L546.22,401.84 L546.49,404.57 L546.76,407.37 L547.03,410.05 L547.30,412.46 L547.57,414.42 L547.84,416.04 L548.11,417.62 L548.38,419.15 L548.65,420.62 L548.92,422.04 L549.19,423.38 L549.46,424.63 L549.74,425.80 L550.01,426.86 L550.28,427.82 L550.55,428.72 L550.82,429.64 L551.09,430.55 L551.36,431.45 L551.63,432.31 L551.90,433.11 L552.17,433.85 L552.44,434.50 L552.71,435.05 L552.98,435.47 L553.25,435.76 L553.52,435.89 L553.79,435.87 L554.06,435.71 L554.33,435.43 L554.60,435.04 L554.88,434.55 L555.15,433.98 L555.42,433.32 L555.69,432.59 L555.96,431.80 L556.23,430.96 L556.50,430.08 L556.77,429.17 L557.04,428.24 L557.31,427.29 L557.58,426.35 L557.85,425.41 L558.12,424.49 L558.39,423.58 L558.66,422.48 L558.93,421.16 L559.20,419.69 L559.47,418.13 L559.74,416.54 L560.02,414.98 L560.29,413.50 L560.56,412.17 L560.83,411.05 L561.10,410.19 L561.37,409.65 L561.64,409.50 L561.91,409.59 L562.18,409.81 L562.45,410.15 L562.72,410.59 L562.99,411.12 L563.26,411.72 L563.53,412.39 L563.80,413.11 L564.07,413.87 L564.34,414.65 L564.61,415.44 L564.88,416.22 L565.16,416.99 L565.43,417.73 L565.70,418.43 L565.97,419.07 L566.24,419.64 L566.51,420.13 L566.78,420.53 L567.05,420.81 L567.32,420.97 L567.59,420.97 L567.86,420.56 L568.13,419.71 L568.40,418.47 L568.67,416.88 L568.94,415.00 L569.21,412.88 L569.48,410.58 L569.75,408.14 L570.02,405.61 L570.29,403.05 L570.57,400.51 L570.84,398.04 L571.11,395.69 L571.38,393.51 L571.65,391.55 L571.92,389.87 L572.19,388.52 L572.46,387.54 L572.73,387.00 L573.00,386.96 L573.27,387.62 L573.54,388.90 L573.81,390.59 L574.08,392.51 L574.35,394.49 L574.62,396.34 L574.89,397.86 L575.16,398.90 L575.43,399.71 L575.71,400.43 L575.98,401.09 L576.25,401.68 L576.52,402.23 L576.79,402.75 L577.06,403.26 L577.33,403.75 L577.60,404.25 L577.87,404.77 L578.14,405.32 L578.41,405.91 L578.68,406.55 L578.95,407.24 L579.22,407.93 L579.49,408.64 L579.76,409.36 L580.03,410.09 L580.30,410.85 L580.57,411.62 L580.85,412.43 L581.12,413.26 L581.39,414.12 L581.66,415.02 L581.93,415.95 L582.20,416.92 L582.47,418.00 L582.74,419.36 L583.01,420.95 L583.28,422.67 L583.55,424.45 L583.82,426.21 L584.09,427.84 L584.36,429.27 L584.63,430.42 L584.90,431.19 L585.17,431.50 L585.44,431.46 L585.71,431.33 L585.99,431.11 L586.26,430.81 L586.53,430.44 L586.80,430.00 L587.07,429.51 L587.34,428.97 L587.61,428.39 L587.88,427.77 L588.15,427.13 L588.42,426.47 L588.69,425.79 L588.96,425.12 L589.23,424.44 L589.50,423.77 L589.77,423.13 L590.04,422.50 L590.31,421.88 L590.58,421.24 L590.85,420.59 L591.13,419.91 L591.40,419.21 L591.67,418.48 L591.94,417.72 L592.21,416.93 L592.48,416.09 L592.75,415.22 L593.02,414.30 L593.29,413.34 L593.56,412.19 L593.83,410.73 L594.10,409.05 L594.37,407.22 L594.64,405.31 L594.91,403.40 L595.18,401.56 L595.45,399.86 L595.72,398.38 L595.99,397.20 L596.27,396.39 L596.54,396.01 L596.81,396.14 L597.08,396.68 L597.35,397.55 L597.62,398.67 L597.89,399.93 L598.16,401.25 L598.43,402.54 L598.70,403.74 L598.97,405.03 L599.24,406.46 L599.51,407.98 L599.78,409.55 L600.05,411.13 L600.32,412.67 L600.59,414.14 L600.86,415.48 L601.13,416.67 L601.41,417.68 L601.68,418.67 L601.95,419.68 L602.22,420.67 L602.49,421.62 L602.76,422.48 L603.03,423.24 L603.30,423.86 L603.57,424.31 L603.84,424.56 L604.11,424.57 L604.38,424.22 L604.65,423.54 L604.92,422.55 L605.19,421.29 L605.46,419.80 L605.73,418.13 L606.00,416.30 L606.27,414.35 L606.55,412.33 L606.82,410.27 L607.09,408.21 L607.36,406.18 L607.63,404.08 L607.90,401.80 L608.17,399.24 L608.44,396.33 L608.71,392.98 L608.98,389.11 L609.25,383.49 L609.52,375.54 L609.79,366.87 L610.06,359.10 L610.33,353.37 L610.60,347.85 L610.87,342.45 L611.14,337.55 L611.41,333.50 L611.68,330.67 L611.96,329.43 L612.23,329.94 L612.50,331.86 L612.77,334.98 L613.04,339.07 L613.31,343.90 L613.58,349.26 L613.85,354.92 L614.12,362.73 L614.39,373.41 L614.66,381.32 L614.93,385.99 L615.20,390.20 L615.47,396.03 L615.74,402.95 L616.01,407.20 L616.28,410.08 L616.55,412.41 L616.82,414.36 L617.10,416.07 L617.37,417.69 L617.64,419.26 L617.91,420.75 L618.18,422.16 L618.45,423.46 L618.72,424.64 L618.99,425.70 L619.26,426.62 L619.53,427.38 L619.80,428.05 L620.07,428.68 L620.34,429.28 L620.61,429.84 L620.88,430.37 L621.15,430.87 L621.42,431.34 L621.69,431.79 L621.96,432.20 L622.24,432.60 L622.51,432.97 L622.78,433.32 L623.05,433.65 L623.32,433.97 L623.59,434.27 L623.86,434.56 L624.13,434.84 L624.40,435.11 L624.67,435.38 L624.94,435.63 L625.21,435.88 L625.48,436.12 L625.75,436.35 L626.02,436.57 L626.29,436.79 L626.56,436.99 L626.83,437.19 L627.10,437.39 L627.38,437.57 L627.65,437.75 L627.92,437.92 L628.19,438.09 L628.46,438.25 L628.73,438.40 L629.00,438.55 L629.27,438.69 L629.54,438.82 L629.81,438.95 L630.08,439.08 L630.35,439.21 L630.62,439.33 L630.89,439.46 L631.16,439.58 L631.43,439.70 L631.70,439.82 L631.97,439.94 L632.24,440.06 L632.52,440.17 L632.79,440.29 L633.06,440.40 L633.33,440.51 L633.60,440.62 L633.87,440.73 L634.14,440.83 L634.41,440.93 L634.68,441.04 L634.95,441.13 L635.22,441.23 L635.49,441.33 L635.76,441.42 L636.03,441.52 L636.30,441.61 L636.57,441.69 L636.84,441.78 L637.11,441.87 L637.38,441.95 L637.66,442.03 L637.93,442.11 L638.20,442.18 L638.47,442.26 L638.74,442.33 L639.01,442.40 L639.28,442.47 L639.55,442.54 L639.82,442.60 L640.09,442.66 L640.36,442.72 L640.63,442.78 L640.90,442.84 L641.17,442.89 L641.44,442.94 L641.71,442.99 L641.98,443.03 L642.25,443.08 L642.52,443.12 L642.80,443.16 L643.07,443.20 L643.34,443.24 L643.61,443.27 L643.88,443.31 L644.15,443.34 L644.42,443.37 L644.69,443.41 L644.96,443.44 L645.23,443.47 L645.50,443.50 L645.77,443.53 L646.04,443.55 L646.31,443.58 L646.58,443.61 L646.85,443.63 L647.12,443.66 L647.39,443.68 L647.66,443.71 L647.94,443.73 L648.21,443.75 L648.48,443.78 L648.75,443.80 L649.02,443.82 L649.29,443.84 L649.56,443.86 L649.83,443.89 L650.10,443.91 L650.37,443.93 L650.64,443.95 L650.91,443.97 L651.18,444.00 L651.45,444.02 L651.72,444.04 L651.99,444.06 L652.26,444.08 L652.53,444.10 L652.80,444.12 L653.07,444.14 L653.35,444.17 L653.62,444.19 L653.89,444.21 L654.16,444.23 L654.43,444.25 L654.70,444.27 L654.97,444.29 L655.24,444.31 L655.51,444.33 L655.78,444.35 L656.05,444.37 L656.32,444.39 L656.59,444.41 L656.86,444.43 L657.13,444.45 L657.40,444.47 L657.67,444.49 L657.94,444.51 L658.21,444.53 L658.49,444.55 L658.76,444.56 L659.03,444.58 L659.30,444.60 L659.57,444.62 L659.84,444.64 L660.11,444.66 L660.38,444.67 L660.65,444.69 L660.92,444.71 L661.19,444.73 L661.46,444.74 L661.73,444.76 L662.00,444.78 L662.27,444.79 L662.54,444.81 L662.81,444.82 L663.08,444.84 L663.35,444.86 L663.63,444.87 L663.90,444.89 L664.17,444.90 L664.44,444.92 L664.71,444.93 L664.98,444.94 L665.25,444.96 L665.52,444.97 L665.79,444.99 L666.06,445.00 L666.33,445.01 L666.60,445.02 L666.87,445.04 L667.14,445.05 L667.41,445.06 L667.68,445.07 L667.95,445.08 L668.22,445.10 L668.49,445.11 L668.77,445.12 L669.04,445.13 L669.31,445.14 L669.58,445.15 L669.85,445.16 L670.12,445.17 L670.39,445.18 L670.66,445.18 L670.93,445.19 L671.20,445.20" fill="none" stroke="#dc1e4a" stroke-width="1.8" stroke-linejoin="round"/>
<line x1="428.0" y1="446.2" x2="428.0" y2="451.8" stroke="#111" stroke-width="0.9"/><line x1="426.1" y1="446.2" x2="429.9" y2="446.2" stroke="#111" stroke-width="0.9"/><line x1="426.1" y1="451.8" x2="429.9" y2="451.8" stroke="#111" stroke-width="0.9"/><circle cx="428.0" cy="449.0" r="2.45" fill="none" stroke="#111" stroke-width="1.0"/>
<line x1="429.4" y1="443.1" x2="429.4" y2="449.1" stroke="#111" stroke-width="0.9"/><line x1="427.5" y1="443.1" x2="431.29999999999995" y2="443.1" stroke="#111" stroke-width="0.9"/><line x1="427.5" y1="449.1" x2="431.29999999999995" y2="449.1" stroke="#111" stroke-width="0.9"/><circle cx="429.4" cy="446.1" r="2.45" fill="none" stroke="#111" stroke-width="1.0"/>
<line x1="431.0" y1="441.5" x2="431.0" y2="448.6" stroke="#111" stroke-width="0.9"/><line x1="429.1" y1="441.5" x2="432.9" y2="441.5" stroke="#111" stroke-width="0.9"/><line x1="429.1" y1="448.6" x2="432.9" y2="448.6" stroke="#111" stroke-width="0.9"/><circle cx="431.0" cy="445.1" r="2.45" fill="none" stroke="#111" stroke-width="1.0"/>
<line x1="432.0" y1="443.7" x2="432.0" y2="449.5" stroke="#111" stroke-width="0.9"/><line x1="430.1" y1="443.7" x2="433.9" y2="443.7" stroke="#111" stroke-width="0.9"/><line x1="430.1" y1="449.5" x2="433.9" y2="449.5" stroke="#111" stroke-width="0.9"/><circle cx="432.0" cy="446.6" r="2.45" fill="none" stroke="#111" stroke-width="1.0"/>
<line x1="433.4" y1="443.6" x2="433.4" y2="449.0" stroke="#111" stroke-width="0.9"/><line x1="431.5" y1="443.6" x2="435.29999999999995" y2="443.6" stroke="#111" stroke-width="0.9"/><line x1="431.5" y1="449.0" x2="435.29999999999995" y2="449.0" stroke="#111" stroke-width="0.9"/><circle cx="433.4" cy="446.3" r="2.45" fill="none" stroke="#111" stroke-width="1.0"/>
<line x1="434.8" y1="438.3" x2="434.8" y2="444.0" stroke="#111" stroke-width="0.9"/><line x1="432.90000000000003" y1="438.3" x2="436.7" y2="438.3" stroke="#111" stroke-width="0.9"/><line x1="432.90000000000003" y1="444.0" x2="436.7" y2="444.0" stroke="#111" stroke-width="0.9"/><circle cx="434.8" cy="441.2" r="2.45" fill="none" stroke="#111" stroke-width="1.0"/>
<line x1="436.6" y1="442.2" x2="436.6" y2="449.1" stroke="#111" stroke-width="0.9"/><line x1="434.70000000000005" y1="442.2" x2="438.5" y2="442.2" stroke="#111" stroke-width="0.9"/><line x1="434.70000000000005" y1="449.1" x2="438.5" y2="449.1" stroke="#111" stroke-width="0.9"/><circle cx="436.6" cy="445.6" r="2.45" fill="none" stroke="#111" stroke-width="1.0"/>
<line x1="438.1" y1="442.5" x2="438.1" y2="448.0" stroke="#111" stroke-width="0.9"/><line x1="436.20000000000005" y1="442.5" x2="440.0" y2="442.5" stroke="#111" stroke-width="0.9"/><line x1="436.20000000000005" y1="448.0" x2="440.0" y2="448.0" stroke="#111" stroke-width="0.9"/><circle cx="438.1" cy="445.3" r="2.45" fill="none" stroke="#111" stroke-width="1.0"/>
<line x1="438.7" y1="441.3" x2="438.7" y2="448.1" stroke="#111" stroke-width="0.9"/><line x1="436.8" y1="441.3" x2="440.59999999999997" y2="441.3" stroke="#111" stroke-width="0.9"/><line x1="436.8" y1="448.1" x2="440.59999999999997" y2="448.1" stroke="#111" stroke-width="0.9"/><circle cx="438.7" cy="444.7" r="2.45" fill="none" stroke="#111" stroke-width="1.0"/>
<line x1="440.1" y1="435.7" x2="440.1" y2="442.0" stroke="#111" stroke-width="0.9"/><line x1="438.20000000000005" y1="435.7" x2="442.0" y2="435.7" stroke="#111" stroke-width="0.9"/><line x1="438.20000000000005" y1="442.0" x2="442.0" y2="442.0" stroke="#111" stroke-width="0.9"/><circle cx="440.1" cy="438.8" r="2.45" fill="none" stroke="#111" stroke-width="1.0"/>
<line x1="441.1" y1="439.6" x2="441.1" y2="446.0" stroke="#111" stroke-width="0.9"/><line x1="439.20000000000005" y1="439.6" x2="443.0" y2="439.6" stroke="#111" stroke-width="0.9"/><line x1="439.20000000000005" y1="446.0" x2="443.0" y2="446.0" stroke="#111" stroke-width="0.9"/><circle cx="441.1" cy="442.8" r="2.45" fill="none" stroke="#111" stroke-width="1.0"/>
<line x1="442.7" y1="442.3" x2="442.7" y2="449.8" stroke="#111" stroke-width="0.9"/><line x1="440.8" y1="442.3" x2="444.59999999999997" y2="442.3" stroke="#111" stroke-width="0.9"/><line x1="440.8" y1="449.8" x2="444.59999999999997" y2="449.8" stroke="#111" stroke-width="0.9"/><circle cx="442.7" cy="446.1" r="2.45" fill="none" stroke="#111" stroke-width="1.0"/>
<line x1="444.8" y1="438.1" x2="444.8" y2="444.9" stroke="#111" stroke-width="0.9"/><line x1="442.90000000000003" y1="438.1" x2="446.7" y2="438.1" stroke="#111" stroke-width="0.9"/><line x1="442.90000000000003" y1="444.9" x2="446.7" y2="444.9" stroke="#111" stroke-width="0.9"/><circle cx="444.8" cy="441.5" r="2.45" fill="none" stroke="#111" stroke-width="1.0"/>
<line x1="445.6" y1="440.6" x2="445.6" y2="446.7" stroke="#111" stroke-width="0.9"/><line x1="443.70000000000005" y1="440.6" x2="447.5" y2="440.6" stroke="#111" stroke-width="0.9"/><line x1="443.70000000000005" y1="446.7" x2="447.5" y2="446.7" stroke="#111" stroke-width="0.9"/><circle cx="445.6" cy="443.7" r="2.45" fill="none" stroke="#111" stroke-width="1.0"/>
<line x1="446.5" y1="443.0" x2="446.5" y2="448.9" stroke="#111" stroke-width="0.9"/><line x1="444.6" y1="443.0" x2="448.4" y2="443.0" stroke="#111" stroke-width="0.9"/><line x1="444.6" y1="448.9" x2="448.4" y2="448.9" stroke="#111" stroke-width="0.9"/><circle cx="446.5" cy="445.9" r="2.45" fill="none" stroke="#111" stroke-width="1.0"/>
<line x1="449.1" y1="436.9" x2="449.1" y2="442.4" stroke="#111" stroke-width="0.9"/><line x1="447.20000000000005" y1="436.9" x2="451.0" y2="436.9" stroke="#111" stroke-width="0.9"/><line x1="447.20000000000005" y1="442.4" x2="451.0" y2="442.4" stroke="#111" stroke-width="0.9"/><circle cx="449.1" cy="439.7" r="2.45" fill="none" stroke="#111" stroke-width="1.0"/>
<line x1="450.3" y1="442.1" x2="450.3" y2="447.9" stroke="#111" stroke-width="0.9"/><line x1="448.40000000000003" y1="442.1" x2="452.2" y2="442.1" stroke="#111" stroke-width="0.9"/><line x1="448.40000000000003" y1="447.9" x2="452.2" y2="447.9" stroke="#111" stroke-width="0.9"/><circle cx="450.3" cy="445.0" r="2.45" fill="none" stroke="#111" stroke-width="1.0"/>
<line x1="451.2" y1="442.2" x2="451.2" y2="447.4" stroke="#111" stroke-width="0.9"/><line x1="449.3" y1="442.2" x2="453.09999999999997" y2="442.2" stroke="#111" stroke-width="0.9"/><line x1="449.3" y1="447.4" x2="453.09999999999997" y2="447.4" stroke="#111" stroke-width="0.9"/><circle cx="451.2" cy="444.8" r="2.45" fill="none" stroke="#111" stroke-width="1.0"/>
<line x1="452.0" y1="441.1" x2="452.0" y2="446.5" stroke="#111" stroke-width="0.9"/><line x1="450.1" y1="441.1" x2="453.9" y2="441.1" stroke="#111" stroke-width="0.9"/><line x1="450.1" y1="446.5" x2="453.9" y2="446.5" stroke="#111" stroke-width="0.9"/><circle cx="452.0" cy="443.8" r="2.45" fill="none" stroke="#111" stroke-width="1.0"/>
<line x1="454.2" y1="442.8" x2="454.2" y2="448.0" stroke="#111" stroke-width="0.9"/><line x1="452.3" y1="442.8" x2="456.09999999999997" y2="442.8" stroke="#111" stroke-width="0.9"/><line x1="452.3" y1="448.0" x2="456.09999999999997" y2="448.0" stroke="#111" stroke-width="0.9"/><circle cx="454.2" cy="445.4" r="2.45" fill="none" stroke="#111" stroke-width="1.0"/>
<line x1="455.1" y1="439.3" x2="455.1" y2="446.7" stroke="#111" stroke-width="0.9"/><line x1="453.20000000000005" y1="439.3" x2="457.0" y2="439.3" stroke="#111" stroke-width="0.9"/><line x1="453.20000000000005" y1="446.7" x2="457.0" y2="446.7" stroke="#111" stroke-width="0.9"/><circle cx="455.1" cy="443.0" r="2.45" fill="none" stroke="#111" stroke-width="1.0"/>
<line x1="456.3" y1="445.6" x2="456.3" y2="451.2" stroke="#111" stroke-width="0.9"/><line x1="454.40000000000003" y1="445.6" x2="458.2" y2="445.6" stroke="#111" stroke-width="0.9"/><line x1="454.40000000000003" y1="451.2" x2="458.2" y2="451.2" stroke="#111" stroke-width="0.9"/><circle cx="456.3" cy="448.4" r="2.45" fill="none" stroke="#111" stroke-width="1.0"/>
<line x1="457.8" y1="437.6" x2="457.8" y2="443.9" stroke="#111" stroke-width="0.9"/><line x1="455.90000000000003" y1="437.6" x2="459.7" y2="437.6" stroke="#111" stroke-width="0.9"/><line x1="455.90000000000003" y1="443.9" x2="459.7" y2="443.9" stroke="#111" stroke-width="0.9"/><circle cx="457.8" cy="440.7" r="2.45" fill="none" stroke="#111" stroke-width="1.0"/>
<line x1="459.2" y1="437.3" x2="459.2" y2="444.2" stroke="#111" stroke-width="0.9"/><line x1="457.3" y1="437.3" x2="461.09999999999997" y2="437.3" stroke="#111" stroke-width="0.9"/><line x1="457.3" y1="444.2" x2="461.09999999999997" y2="444.2" stroke="#111" stroke-width="0.9"/><circle cx="459.2" cy="440.7" r="2.45" fill="none" stroke="#111" stroke-width="1.0"/>
<line x1="461.1" y1="440.6" x2="461.1" y2="447.5" stroke="#111" stroke-width="0.9"/><line x1="459.20000000000005" y1="440.6" x2="463.0" y2="440.6" stroke="#111" stroke-width="0.9"/><line x1="459.20000000000005" y1="447.5" x2="463.0" y2="447.5" stroke="#111" stroke-width="0.9"/><circle cx="461.1" cy="444.1" r="2.45" fill="none" stroke="#111" stroke-width="1.0"/>
<line x1="462.2" y1="440.4" x2="462.2" y2="445.9" stroke="#111" stroke-width="0.9"/><line x1="460.3" y1="440.4" x2="464.09999999999997" y2="440.4" stroke="#111" stroke-width="0.9"/><line x1="460.3" y1="445.9" x2="464.09999999999997" y2="445.9" stroke="#111" stroke-width="0.9"/><circle cx="462.2" cy="443.2" r="2.45" fill="none" stroke="#111" stroke-width="1.0"/>
<line x1="463.5" y1="439.5" x2="463.5" y2="446.8" stroke="#111" stroke-width="0.9"/><line x1="461.6" y1="439.5" x2="465.4" y2="439.5" stroke="#111" stroke-width="0.9"/><line x1="461.6" y1="446.8" x2="465.4" y2="446.8" stroke="#111" stroke-width="0.9"/><circle cx="463.5" cy="443.1" r="2.45" fill="none" stroke="#111" stroke-width="1.0"/>
<line x1="464.4" y1="443.1" x2="464.4" y2="448.7" stroke="#111" stroke-width="0.9"/><line x1="462.5" y1="443.1" x2="466.29999999999995" y2="443.1" stroke="#111" stroke-width="0.9"/><line x1="462.5" y1="448.7" x2="466.29999999999995" y2="448.7" stroke="#111" stroke-width="0.9"/><circle cx="464.4" cy="445.9" r="2.45" fill="none" stroke="#111" stroke-width="1.0"/>
<line x1="466.0" y1="440.0" x2="466.0" y2="445.8" stroke="#111" stroke-width="0.9"/><line x1="464.1" y1="440.0" x2="467.9" y2="440.0" stroke="#111" stroke-width="0.9"/><line x1="464.1" y1="445.8" x2="467.9" y2="445.8" stroke="#111" stroke-width="0.9"/><circle cx="466.0" cy="442.9" r="2.45" fill="none" stroke="#111" stroke-width="1.0"/>
<line x1="467.6" y1="443.1" x2="467.6" y2="450.1" stroke="#111" stroke-width="0.9"/><line x1="465.70000000000005" y1="443.1" x2="469.5" y2="443.1" stroke="#111" stroke-width="0.9"/><line x1="465.70000000000005" y1="450.1" x2="469.5" y2="450.1" stroke="#111" stroke-width="0.9"/><circle cx="467.6" cy="446.6" r="2.45" fill="none" stroke="#111" stroke-width="1.0"/>
<line x1="468.8" y1="441.3" x2="468.8" y2="447.3" stroke="#111" stroke-width="0.9"/><line x1="466.90000000000003" y1="441.3" x2="470.7" y2="441.3" stroke="#111" stroke-width="0.9"/><line x1="466.90000000000003" y1="447.3" x2="470.7" y2="447.3" stroke="#111" stroke-width="0.9"/><circle cx="468.8" cy="444.3" r="2.45" fill="none" stroke="#111" stroke-width="1.0"/>
<line x1="470.1" y1="439.2" x2="470.1" y2="445.2" stroke="#111" stroke-width="0.9"/><line x1="468.20000000000005" y1="439.2" x2="472.0" y2="439.2" stroke="#111" stroke-width="0.9"/><line x1="468.20000000000005" y1="445.2" x2="472.0" y2="445.2" stroke="#111" stroke-width="0.9"/><circle cx="470.1" cy="442.2" r="2.45" fill="none" stroke="#111" stroke-width="1.0"/>
<line x1="471.4" y1="444.8" x2="471.4" y2="451.1" stroke="#111" stroke-width="0.9"/><line x1="469.5" y1="444.8" x2="473.29999999999995" y2="444.8" stroke="#111" stroke-width="0.9"/><line x1="469.5" y1="451.1" x2="473.29999999999995" y2="451.1" stroke="#111" stroke-width="0.9"/><circle cx="471.4" cy="448.0" r="2.45" fill="none" stroke="#111" stroke-width="1.0"/>
<line x1="472.9" y1="436.9" x2="472.9" y2="443.2" stroke="#111" stroke-width="0.9"/><line x1="471.0" y1="436.9" x2="474.79999999999995" y2="436.9" stroke="#111" stroke-width="0.9"/><line x1="471.0" y1="443.2" x2="474.79999999999995" y2="443.2" stroke="#111" stroke-width="0.9"/><circle cx="472.9" cy="440.0" r="2.45" fill="none" stroke="#111" stroke-width="1.0"/>
<line x1="474.3" y1="438.0" x2="474.3" y2="445.0" stroke="#111" stroke-width="0.9"/><line x1="472.40000000000003" y1="438.0" x2="476.2" y2="438.0" stroke="#111" stroke-width="0.9"/><line x1="472.40000000000003" y1="445.0" x2="476.2" y2="445.0" stroke="#111" stroke-width="0.9"/><circle cx="474.3" cy="441.5" r="2.45" fill="none" stroke="#111" stroke-width="1.0"/>
<line x1="475.6" y1="433.8" x2="475.6" y2="440.9" stroke="#111" stroke-width="0.9"/><line x1="473.70000000000005" y1="433.8" x2="477.5" y2="433.8" stroke="#111" stroke-width="0.9"/><line x1="473.70000000000005" y1="440.9" x2="477.5" y2="440.9" stroke="#111" stroke-width="0.9"/><circle cx="475.6" cy="437.3" r="2.45" fill="none" stroke="#111" stroke-width="1.0"/>
<line x1="476.8" y1="438.6" x2="476.8" y2="444.6" stroke="#111" stroke-width="0.9"/><line x1="474.90000000000003" y1="438.6" x2="478.7" y2="438.6" stroke="#111" stroke-width="0.9"/><line x1="474.90000000000003" y1="444.6" x2="478.7" y2="444.6" stroke="#111" stroke-width="0.9"/><circle cx="476.8" cy="441.6" r="2.45" fill="none" stroke="#111" stroke-width="1.0"/>
<line x1="478.4" y1="431.3" x2="478.4" y2="438.2" stroke="#111" stroke-width="0.9"/><line x1="476.5" y1="431.3" x2="480.29999999999995" y2="431.3" stroke="#111" stroke-width="0.9"/><line x1="476.5" y1="438.2" x2="480.29999999999995" y2="438.2" stroke="#111" stroke-width="0.9"/><circle cx="478.4" cy="434.8" r="2.45" fill="none" stroke="#111" stroke-width="1.0"/>
<line x1="479.6" y1="422.3" x2="479.6" y2="428.4" stroke="#111" stroke-width="0.9"/><line x1="477.70000000000005" y1="422.3" x2="481.5" y2="422.3" stroke="#111" stroke-width="0.9"/><line x1="477.70000000000005" y1="428.4" x2="481.5" y2="428.4" stroke="#111" stroke-width="0.9"/><circle cx="479.6" cy="425.4" r="2.45" fill="none" stroke="#111" stroke-width="1.0"/>
<line x1="481.5" y1="420.1" x2="481.5" y2="427.0" stroke="#111" stroke-width="0.9"/><line x1="479.6" y1="420.1" x2="483.4" y2="420.1" stroke="#111" stroke-width="0.9"/><line x1="479.6" y1="427.0" x2="483.4" y2="427.0" stroke="#111" stroke-width="0.9"/><circle cx="481.5" cy="423.6" r="2.45" fill="none" stroke="#111" stroke-width="1.0"/>
<line x1="482.5" y1="419.9" x2="482.5" y2="427.0" stroke="#111" stroke-width="0.9"/><line x1="480.6" y1="419.9" x2="484.4" y2="419.9" stroke="#111" stroke-width="0.9"/><line x1="480.6" y1="427.0" x2="484.4" y2="427.0" stroke="#111" stroke-width="0.9"/><circle cx="482.5" cy="423.4" r="2.45" fill="none" stroke="#111" stroke-width="1.0"/>
<line x1="483.9" y1="426.9" x2="483.9" y2="432.9" stroke="#111" stroke-width="0.9"/><line x1="482.0" y1="426.9" x2="485.79999999999995" y2="426.9" stroke="#111" stroke-width="0.9"/><line x1="482.0" y1="432.9" x2="485.79999999999995" y2="432.9" stroke="#111" stroke-width="0.9"/><circle cx="483.9" cy="429.9" r="2.45" fill="none" stroke="#111" stroke-width="1.0"/>
<line x1="485.4" y1="432.0" x2="485.4" y2="438.1" stroke="#111" stroke-width="0.9"/><line x1="483.5" y1="432.0" x2="487.29999999999995" y2="432.0" stroke="#111" stroke-width="0.9"/><line x1="483.5" y1="438.1" x2="487.29999999999995" y2="438.1" stroke="#111" stroke-width="0.9"/><circle cx="485.4" cy="435.0" r="2.45" fill="none" stroke="#111" stroke-width="1.0"/>
<line x1="486.3" y1="434.2" x2="486.3" y2="440.4" stroke="#111" stroke-width="0.9"/><line x1="484.40000000000003" y1="434.2" x2="488.2" y2="434.2" stroke="#111" stroke-width="0.9"/><line x1="484.40000000000003" y1="440.4" x2="488.2" y2="440.4" stroke="#111" stroke-width="0.9"/><circle cx="486.3" cy="437.3" r="2.45" fill="none" stroke="#111" stroke-width="1.0"/>
<line x1="487.5" y1="433.1" x2="487.5" y2="438.8" stroke="#111" stroke-width="0.9"/><line x1="485.6" y1="433.1" x2="489.4" y2="433.1" stroke="#111" stroke-width="0.9"/><line x1="485.6" y1="438.8" x2="489.4" y2="438.8" stroke="#111" stroke-width="0.9"/><circle cx="487.5" cy="436.0" r="2.45" fill="none" stroke="#111" stroke-width="1.0"/>
<line x1="488.7" y1="427.2" x2="488.7" y2="432.9" stroke="#111" stroke-width="0.9"/><line x1="486.8" y1="427.2" x2="490.59999999999997" y2="427.2" stroke="#111" stroke-width="0.9"/><line x1="486.8" y1="432.9" x2="490.59999999999997" y2="432.9" stroke="#111" stroke-width="0.9"/><circle cx="488.7" cy="430.1" r="2.45" fill="none" stroke="#111" stroke-width="1.0"/>
<line x1="490.3" y1="422.6" x2="490.3" y2="428.8" stroke="#111" stroke-width="0.9"/><line x1="488.40000000000003" y1="422.6" x2="492.2" y2="422.6" stroke="#111" stroke-width="0.9"/><line x1="488.40000000000003" y1="428.8" x2="492.2" y2="428.8" stroke="#111" stroke-width="0.9"/><circle cx="490.3" cy="425.7" r="2.45" fill="none" stroke="#111" stroke-width="1.0"/>
<line x1="491.5" y1="425.6" x2="491.5" y2="432.3" stroke="#111" stroke-width="0.9"/><line x1="489.6" y1="425.6" x2="493.4" y2="425.6" stroke="#111" stroke-width="0.9"/><line x1="489.6" y1="432.3" x2="493.4" y2="432.3" stroke="#111" stroke-width="0.9"/><circle cx="491.5" cy="428.9" r="2.45" fill="none" stroke="#111" stroke-width="1.0"/>
<line x1="493.1" y1="415.6" x2="493.1" y2="422.4" stroke="#111" stroke-width="0.9"/><line x1="491.20000000000005" y1="415.6" x2="495.0" y2="415.6" stroke="#111" stroke-width="0.9"/><line x1="491.20000000000005" y1="422.4" x2="495.0" y2="422.4" stroke="#111" stroke-width="0.9"/><circle cx="493.1" cy="419.0" r="2.45" fill="none" stroke="#111" stroke-width="1.0"/>
<line x1="494.1" y1="411.8" x2="494.1" y2="418.7" stroke="#111" stroke-width="0.9"/><line x1="492.20000000000005" y1="411.8" x2="496.0" y2="411.8" stroke="#111" stroke-width="0.9"/><line x1="492.20000000000005" y1="418.7" x2="496.0" y2="418.7" stroke="#111" stroke-width="0.9"/><circle cx="494.1" cy="415.2" r="2.45" fill="none" stroke="#111" stroke-width="1.0"/>
<line x1="495.9" y1="410.5" x2="495.9" y2="419.3" stroke="#111" stroke-width="0.9"/><line x1="494.0" y1="410.5" x2="497.79999999999995" y2="410.5" stroke="#111" stroke-width="0.9"/><line x1="494.0" y1="419.3" x2="497.79999999999995" y2="419.3" stroke="#111" stroke-width="0.9"/><circle cx="495.9" cy="414.9" r="2.45" fill="none" stroke="#111" stroke-width="1.0"/>
<line x1="497.8" y1="415.9" x2="497.8" y2="423.7" stroke="#111" stroke-width="0.9"/><line x1="495.90000000000003" y1="415.9" x2="499.7" y2="415.9" stroke="#111" stroke-width="0.9"/><line x1="495.90000000000003" y1="423.7" x2="499.7" y2="423.7" stroke="#111" stroke-width="0.9"/><circle cx="497.8" cy="419.8" r="2.45" fill="none" stroke="#111" stroke-width="1.0"/>
<line x1="499.0" y1="416.9" x2="499.0" y2="424.0" stroke="#111" stroke-width="0.9"/><line x1="497.1" y1="416.9" x2="500.9" y2="416.9" stroke="#111" stroke-width="0.9"/><line x1="497.1" y1="424.0" x2="500.9" y2="424.0" stroke="#111" stroke-width="0.9"/><circle cx="499.0" cy="420.5" r="2.45" fill="none" stroke="#111" stroke-width="1.0"/>
<line x1="500.1" y1="429.3" x2="500.1" y2="436.3" stroke="#111" stroke-width="0.9"/><line x1="498.20000000000005" y1="429.3" x2="502.0" y2="429.3" stroke="#111" stroke-width="0.9"/><line x1="498.20000000000005" y1="436.3" x2="502.0" y2="436.3" stroke="#111" stroke-width="0.9"/><circle cx="500.1" cy="432.8" r="2.45" fill="none" stroke="#111" stroke-width="1.0"/>
<line x1="501.5" y1="435.2" x2="501.5" y2="442.7" stroke="#111" stroke-width="0.9"/><line x1="499.6" y1="435.2" x2="503.4" y2="435.2" stroke="#111" stroke-width="0.9"/><line x1="499.6" y1="442.7" x2="503.4" y2="442.7" stroke="#111" stroke-width="0.9"/><circle cx="501.5" cy="439.0" r="2.45" fill="none" stroke="#111" stroke-width="1.0"/>
<line x1="502.9" y1="436.2" x2="502.9" y2="442.5" stroke="#111" stroke-width="0.9"/><line x1="501.0" y1="436.2" x2="504.79999999999995" y2="436.2" stroke="#111" stroke-width="0.9"/><line x1="501.0" y1="442.5" x2="504.79999999999995" y2="442.5" stroke="#111" stroke-width="0.9"/><circle cx="502.9" cy="439.4" r="2.45" fill="none" stroke="#111" stroke-width="1.0"/>
<line x1="503.8" y1="431.7" x2="503.8" y2="438.1" stroke="#111" stroke-width="0.9"/><line x1="501.90000000000003" y1="431.7" x2="505.7" y2="431.7" stroke="#111" stroke-width="0.9"/><line x1="501.90000000000003" y1="438.1" x2="505.7" y2="438.1" stroke="#111" stroke-width="0.9"/><circle cx="503.8" cy="434.9" r="2.45" fill="none" stroke="#111" stroke-width="1.0"/>
<line x1="505.7" y1="436.9" x2="505.7" y2="442.4" stroke="#111" stroke-width="0.9"/><line x1="503.8" y1="436.9" x2="507.59999999999997" y2="436.9" stroke="#111" stroke-width="0.9"/><line x1="503.8" y1="442.4" x2="507.59999999999997" y2="442.4" stroke="#111" stroke-width="0.9"/><circle cx="505.7" cy="439.6" r="2.45" fill="none" stroke="#111" stroke-width="1.0"/>
<line x1="507.1" y1="434.6" x2="507.1" y2="440.1" stroke="#111" stroke-width="0.9"/><line x1="505.20000000000005" y1="434.6" x2="509.0" y2="434.6" stroke="#111" stroke-width="0.9"/><line x1="505.20000000000005" y1="440.1" x2="509.0" y2="440.1" stroke="#111" stroke-width="0.9"/><circle cx="507.1" cy="437.3" r="2.45" fill="none" stroke="#111" stroke-width="1.0"/>
<line x1="508.4" y1="437.9" x2="508.4" y2="444.9" stroke="#111" stroke-width="0.9"/><line x1="506.5" y1="437.9" x2="510.29999999999995" y2="437.9" stroke="#111" stroke-width="0.9"/><line x1="506.5" y1="444.9" x2="510.29999999999995" y2="444.9" stroke="#111" stroke-width="0.9"/><circle cx="508.4" cy="441.4" r="2.45" fill="none" stroke="#111" stroke-width="1.0"/>
<line x1="509.6" y1="434.7" x2="509.6" y2="440.5" stroke="#111" stroke-width="0.9"/><line x1="507.70000000000005" y1="434.7" x2="511.5" y2="434.7" stroke="#111" stroke-width="0.9"/><line x1="507.70000000000005" y1="440.5" x2="511.5" y2="440.5" stroke="#111" stroke-width="0.9"/><circle cx="509.6" cy="437.6" r="2.45" fill="none" stroke="#111" stroke-width="1.0"/>
<line x1="510.3" y1="437.9" x2="510.3" y2="443.5" stroke="#111" stroke-width="0.9"/><line x1="508.40000000000003" y1="437.9" x2="512.2" y2="437.9" stroke="#111" stroke-width="0.9"/><line x1="508.40000000000003" y1="443.5" x2="512.2" y2="443.5" stroke="#111" stroke-width="0.9"/><circle cx="510.3" cy="440.7" r="2.45" fill="none" stroke="#111" stroke-width="1.0"/>
<line x1="512.2" y1="427.9" x2="512.2" y2="434.4" stroke="#111" stroke-width="0.9"/><line x1="510.30000000000007" y1="427.9" x2="514.1" y2="427.9" stroke="#111" stroke-width="0.9"/><line x1="510.30000000000007" y1="434.4" x2="514.1" y2="434.4" stroke="#111" stroke-width="0.9"/><circle cx="512.2" cy="431.1" r="2.45" fill="none" stroke="#111" stroke-width="1.0"/>
<line x1="513.4" y1="430.0" x2="513.4" y2="436.2" stroke="#111" stroke-width="0.9"/><line x1="511.5" y1="430.0" x2="515.3" y2="430.0" stroke="#111" stroke-width="0.9"/><line x1="511.5" y1="436.2" x2="515.3" y2="436.2" stroke="#111" stroke-width="0.9"/><circle cx="513.4" cy="433.1" r="2.45" fill="none" stroke="#111" stroke-width="1.0"/>
<line x1="514.3" y1="422.0" x2="514.3" y2="429.3" stroke="#111" stroke-width="0.9"/><line x1="512.4" y1="422.0" x2="516.1999999999999" y2="422.0" stroke="#111" stroke-width="0.9"/><line x1="512.4" y1="429.3" x2="516.1999999999999" y2="429.3" stroke="#111" stroke-width="0.9"/><circle cx="514.3" cy="425.7" r="2.45" fill="none" stroke="#111" stroke-width="1.0"/>
<line x1="516.5" y1="415.5" x2="516.5" y2="424.5" stroke="#111" stroke-width="0.9"/><line x1="514.6" y1="415.5" x2="518.4" y2="415.5" stroke="#111" stroke-width="0.9"/><line x1="514.6" y1="424.5" x2="518.4" y2="424.5" stroke="#111" stroke-width="0.9"/><circle cx="516.5" cy="420.0" r="2.45" fill="none" stroke="#111" stroke-width="1.0"/>
<line x1="517.2" y1="403.5" x2="517.2" y2="411.0" stroke="#111" stroke-width="0.9"/><line x1="515.3000000000001" y1="403.5" x2="519.1" y2="403.5" stroke="#111" stroke-width="0.9"/><line x1="515.3000000000001" y1="411.0" x2="519.1" y2="411.0" stroke="#111" stroke-width="0.9"/><circle cx="517.2" cy="407.3" r="2.45" fill="none" stroke="#111" stroke-width="1.0"/>
<line x1="518.6" y1="406.3" x2="518.6" y2="415.2" stroke="#111" stroke-width="0.9"/><line x1="516.7" y1="406.3" x2="520.5" y2="406.3" stroke="#111" stroke-width="0.9"/><line x1="516.7" y1="415.2" x2="520.5" y2="415.2" stroke="#111" stroke-width="0.9"/><circle cx="518.6" cy="410.8" r="2.45" fill="none" stroke="#111" stroke-width="1.0"/>
<line x1="520.5" y1="411.3" x2="520.5" y2="418.8" stroke="#111" stroke-width="0.9"/><line x1="518.6" y1="411.3" x2="522.4" y2="411.3" stroke="#111" stroke-width="0.9"/><line x1="518.6" y1="418.8" x2="522.4" y2="418.8" stroke="#111" stroke-width="0.9"/><circle cx="520.5" cy="415.0" r="2.45" fill="none" stroke="#111" stroke-width="1.0"/>
<line x1="521.7" y1="416.9" x2="521.7" y2="424.0" stroke="#111" stroke-width="0.9"/><line x1="519.8000000000001" y1="416.9" x2="523.6" y2="416.9" stroke="#111" stroke-width="0.9"/><line x1="519.8000000000001" y1="424.0" x2="523.6" y2="424.0" stroke="#111" stroke-width="0.9"/><circle cx="521.7" cy="420.5" r="2.45" fill="none" stroke="#111" stroke-width="1.0"/>
<line x1="523.3" y1="408.7" x2="523.3" y2="415.7" stroke="#111" stroke-width="0.9"/><line x1="521.4" y1="408.7" x2="525.1999999999999" y2="408.7" stroke="#111" stroke-width="0.9"/><line x1="521.4" y1="415.7" x2="525.1999999999999" y2="415.7" stroke="#111" stroke-width="0.9"/><circle cx="523.3" cy="412.2" r="2.45" fill="none" stroke="#111" stroke-width="1.0"/>
<line x1="524.3" y1="410.9" x2="524.3" y2="418.1" stroke="#111" stroke-width="0.9"/><line x1="522.4" y1="410.9" x2="526.1999999999999" y2="410.9" stroke="#111" stroke-width="0.9"/><line x1="522.4" y1="418.1" x2="526.1999999999999" y2="418.1" stroke="#111" stroke-width="0.9"/><circle cx="524.3" cy="414.5" r="2.45" fill="none" stroke="#111" stroke-width="1.0"/>
<line x1="525.8" y1="416.4" x2="525.8" y2="422.8" stroke="#111" stroke-width="0.9"/><line x1="523.9" y1="416.4" x2="527.6999999999999" y2="416.4" stroke="#111" stroke-width="0.9"/><line x1="523.9" y1="422.8" x2="527.6999999999999" y2="422.8" stroke="#111" stroke-width="0.9"/><circle cx="525.8" cy="419.6" r="2.45" fill="none" stroke="#111" stroke-width="1.0"/>
<line x1="527.7" y1="426.6" x2="527.7" y2="432.8" stroke="#111" stroke-width="0.9"/><line x1="525.8000000000001" y1="426.6" x2="529.6" y2="426.6" stroke="#111" stroke-width="0.9"/><line x1="525.8000000000001" y1="432.8" x2="529.6" y2="432.8" stroke="#111" stroke-width="0.9"/><circle cx="527.7" cy="429.7" r="2.45" fill="none" stroke="#111" stroke-width="1.0"/>
<line x1="528.2" y1="428.1" x2="528.2" y2="434.1" stroke="#111" stroke-width="0.9"/><line x1="526.3000000000001" y1="428.1" x2="530.1" y2="428.1" stroke="#111" stroke-width="0.9"/><line x1="526.3000000000001" y1="434.1" x2="530.1" y2="434.1" stroke="#111" stroke-width="0.9"/><circle cx="528.2" cy="431.1" r="2.45" fill="none" stroke="#111" stroke-width="1.0"/>
<line x1="529.7" y1="431.8" x2="529.7" y2="438.2" stroke="#111" stroke-width="0.9"/><line x1="527.8000000000001" y1="431.8" x2="531.6" y2="431.8" stroke="#111" stroke-width="0.9"/><line x1="527.8000000000001" y1="438.2" x2="531.6" y2="438.2" stroke="#111" stroke-width="0.9"/><circle cx="529.7" cy="435.0" r="2.45" fill="none" stroke="#111" stroke-width="1.0"/>
<line x1="531.2" y1="433.2" x2="531.2" y2="439.6" stroke="#111" stroke-width="0.9"/><line x1="529.3000000000001" y1="433.2" x2="533.1" y2="433.2" stroke="#111" stroke-width="0.9"/><line x1="529.3000000000001" y1="439.6" x2="533.1" y2="439.6" stroke="#111" stroke-width="0.9"/><circle cx="531.2" cy="436.4" r="2.45" fill="none" stroke="#111" stroke-width="1.0"/>
<line x1="532.6" y1="431.4" x2="532.6" y2="438.1" stroke="#111" stroke-width="0.9"/><line x1="530.7" y1="431.4" x2="534.5" y2="431.4" stroke="#111" stroke-width="0.9"/><line x1="530.7" y1="438.1" x2="534.5" y2="438.1" stroke="#111" stroke-width="0.9"/><circle cx="532.6" cy="434.7" r="2.45" fill="none" stroke="#111" stroke-width="1.0"/>
<line x1="534.3" y1="432.5" x2="534.3" y2="439.5" stroke="#111" stroke-width="0.9"/><line x1="532.4" y1="432.5" x2="536.1999999999999" y2="432.5" stroke="#111" stroke-width="0.9"/><line x1="532.4" y1="439.5" x2="536.1999999999999" y2="439.5" stroke="#111" stroke-width="0.9"/><circle cx="534.3" cy="436.0" r="2.45" fill="none" stroke="#111" stroke-width="1.0"/>
<line x1="535.4" y1="428.5" x2="535.4" y2="434.8" stroke="#111" stroke-width="0.9"/><line x1="533.5" y1="428.5" x2="537.3" y2="428.5" stroke="#111" stroke-width="0.9"/><line x1="533.5" y1="434.8" x2="537.3" y2="434.8" stroke="#111" stroke-width="0.9"/><circle cx="535.4" cy="431.6" r="2.45" fill="none" stroke="#111" stroke-width="1.0"/>
<line x1="537.1" y1="423.3" x2="537.1" y2="431.5" stroke="#111" stroke-width="0.9"/><line x1="535.2" y1="423.3" x2="539.0" y2="423.3" stroke="#111" stroke-width="0.9"/><line x1="535.2" y1="431.5" x2="539.0" y2="431.5" stroke="#111" stroke-width="0.9"/><circle cx="537.1" cy="427.4" r="2.45" fill="none" stroke="#111" stroke-width="1.0"/>
<line x1="537.7" y1="418.4" x2="537.7" y2="425.6" stroke="#111" stroke-width="0.9"/><line x1="535.8000000000001" y1="418.4" x2="539.6" y2="418.4" stroke="#111" stroke-width="0.9"/><line x1="535.8000000000001" y1="425.6" x2="539.6" y2="425.6" stroke="#111" stroke-width="0.9"/><circle cx="537.7" cy="422.0" r="2.45" fill="none" stroke="#111" stroke-width="1.0"/>
<line x1="539.4" y1="417.7" x2="539.4" y2="425.0" stroke="#111" stroke-width="0.9"/><line x1="537.5" y1="417.7" x2="541.3" y2="417.7" stroke="#111" stroke-width="0.9"/><line x1="537.5" y1="425.0" x2="541.3" y2="425.0" stroke="#111" stroke-width="0.9"/><circle cx="539.4" cy="421.3" r="2.45" fill="none" stroke="#111" stroke-width="1.0"/>
<line x1="540.7" y1="406.4" x2="540.7" y2="413.3" stroke="#111" stroke-width="0.9"/><line x1="538.8000000000001" y1="406.4" x2="542.6" y2="406.4" stroke="#111" stroke-width="0.9"/><line x1="538.8000000000001" y1="413.3" x2="542.6" y2="413.3" stroke="#111" stroke-width="0.9"/><circle cx="540.7" cy="409.8" r="2.45" fill="none" stroke="#111" stroke-width="1.0"/>
<line x1="542.1" y1="407.5" x2="542.1" y2="414.9" stroke="#111" stroke-width="0.9"/><line x1="540.2" y1="407.5" x2="544.0" y2="407.5" stroke="#111" stroke-width="0.9"/><line x1="540.2" y1="414.9" x2="544.0" y2="414.9" stroke="#111" stroke-width="0.9"/><circle cx="542.1" cy="411.2" r="2.45" fill="none" stroke="#111" stroke-width="1.0"/>
<line x1="543.2" y1="403.6" x2="543.2" y2="411.5" stroke="#111" stroke-width="0.9"/><line x1="541.3000000000001" y1="403.6" x2="545.1" y2="403.6" stroke="#111" stroke-width="0.9"/><line x1="541.3000000000001" y1="411.5" x2="545.1" y2="411.5" stroke="#111" stroke-width="0.9"/><circle cx="543.2" cy="407.6" r="2.45" fill="none" stroke="#111" stroke-width="1.0"/>
<line x1="545.2" y1="390.4" x2="545.2" y2="398.9" stroke="#111" stroke-width="0.9"/><line x1="543.3000000000001" y1="390.4" x2="547.1" y2="390.4" stroke="#111" stroke-width="0.9"/><line x1="543.3000000000001" y1="398.9" x2="547.1" y2="398.9" stroke="#111" stroke-width="0.9"/><circle cx="545.2" cy="394.7" r="2.45" fill="none" stroke="#111" stroke-width="1.0"/>
<line x1="546.3" y1="399.9" x2="546.3" y2="409.4" stroke="#111" stroke-width="0.9"/><line x1="544.4" y1="399.9" x2="548.1999999999999" y2="399.9" stroke="#111" stroke-width="0.9"/><line x1="544.4" y1="409.4" x2="548.1999999999999" y2="409.4" stroke="#111" stroke-width="0.9"/><circle cx="546.3" cy="404.6" r="2.45" fill="none" stroke="#111" stroke-width="1.0"/>
<line x1="547.4" y1="415.8" x2="547.4" y2="422.6" stroke="#111" stroke-width="0.9"/><line x1="545.5" y1="415.8" x2="549.3" y2="415.8" stroke="#111" stroke-width="0.9"/><line x1="545.5" y1="422.6" x2="549.3" y2="422.6" stroke="#111" stroke-width="0.9"/><circle cx="547.4" cy="419.2" r="2.45" fill="none" stroke="#111" stroke-width="1.0"/>
<line x1="549.1" y1="419.5" x2="549.1" y2="426.4" stroke="#111" stroke-width="0.9"/><line x1="547.2" y1="419.5" x2="551.0" y2="419.5" stroke="#111" stroke-width="0.9"/><line x1="547.2" y1="426.4" x2="551.0" y2="426.4" stroke="#111" stroke-width="0.9"/><circle cx="549.1" cy="423.0" r="2.45" fill="none" stroke="#111" stroke-width="1.0"/>
<line x1="550.4" y1="424.0" x2="550.4" y2="431.6" stroke="#111" stroke-width="0.9"/><line x1="548.5" y1="424.0" x2="552.3" y2="424.0" stroke="#111" stroke-width="0.9"/><line x1="548.5" y1="431.6" x2="552.3" y2="431.6" stroke="#111" stroke-width="0.9"/><circle cx="550.4" cy="427.8" r="2.45" fill="none" stroke="#111" stroke-width="1.0"/>
<line x1="551.9" y1="427.0" x2="551.9" y2="433.5" stroke="#111" stroke-width="0.9"/><line x1="550.0" y1="427.0" x2="553.8" y2="427.0" stroke="#111" stroke-width="0.9"/><line x1="550.0" y1="433.5" x2="553.8" y2="433.5" stroke="#111" stroke-width="0.9"/><circle cx="551.9" cy="430.2" r="2.45" fill="none" stroke="#111" stroke-width="1.0"/>
<line x1="552.3" y1="430.8" x2="552.3" y2="436.9" stroke="#111" stroke-width="0.9"/><line x1="550.4" y1="430.8" x2="554.1999999999999" y2="430.8" stroke="#111" stroke-width="0.9"/><line x1="550.4" y1="436.9" x2="554.1999999999999" y2="436.9" stroke="#111" stroke-width="0.9"/><circle cx="552.3" cy="433.9" r="2.45" fill="none" stroke="#111" stroke-width="1.0"/>
<line x1="553.7" y1="434.8" x2="553.7" y2="441.1" stroke="#111" stroke-width="0.9"/><line x1="551.8000000000001" y1="434.8" x2="555.6" y2="434.8" stroke="#111" stroke-width="0.9"/><line x1="551.8000000000001" y1="441.1" x2="555.6" y2="441.1" stroke="#111" stroke-width="0.9"/><circle cx="553.7" cy="438.0" r="2.45" fill="none" stroke="#111" stroke-width="1.0"/>
<line x1="555.9" y1="424.4" x2="555.9" y2="430.4" stroke="#111" stroke-width="0.9"/><line x1="554.0" y1="424.4" x2="557.8" y2="424.4" stroke="#111" stroke-width="0.9"/><line x1="554.0" y1="430.4" x2="557.8" y2="430.4" stroke="#111" stroke-width="0.9"/><circle cx="555.9" cy="427.4" r="2.45" fill="none" stroke="#111" stroke-width="1.0"/>
<line x1="556.7" y1="424.6" x2="556.7" y2="431.1" stroke="#111" stroke-width="0.9"/><line x1="554.8000000000001" y1="424.6" x2="558.6" y2="424.6" stroke="#111" stroke-width="0.9"/><line x1="554.8000000000001" y1="431.1" x2="558.6" y2="431.1" stroke="#111" stroke-width="0.9"/><circle cx="556.7" cy="427.9" r="2.45" fill="none" stroke="#111" stroke-width="1.0"/>
<line x1="558.6" y1="415.6" x2="558.6" y2="422.9" stroke="#111" stroke-width="0.9"/><line x1="556.7" y1="415.6" x2="560.5" y2="415.6" stroke="#111" stroke-width="0.9"/><line x1="556.7" y1="422.9" x2="560.5" y2="422.9" stroke="#111" stroke-width="0.9"/><circle cx="558.6" cy="419.3" r="2.45" fill="none" stroke="#111" stroke-width="1.0"/>
<line x1="559.5" y1="412.1" x2="559.5" y2="420.2" stroke="#111" stroke-width="0.9"/><line x1="557.6" y1="412.1" x2="561.4" y2="412.1" stroke="#111" stroke-width="0.9"/><line x1="557.6" y1="420.2" x2="561.4" y2="420.2" stroke="#111" stroke-width="0.9"/><circle cx="559.5" cy="416.2" r="2.45" fill="none" stroke="#111" stroke-width="1.0"/>
<line x1="561.7" y1="404.5" x2="561.7" y2="412.7" stroke="#111" stroke-width="0.9"/><line x1="559.8000000000001" y1="404.5" x2="563.6" y2="404.5" stroke="#111" stroke-width="0.9"/><line x1="559.8000000000001" y1="412.7" x2="563.6" y2="412.7" stroke="#111" stroke-width="0.9"/><circle cx="561.7" cy="408.6" r="2.45" fill="none" stroke="#111" stroke-width="1.0"/>
<line x1="562.3" y1="405.8" x2="562.3" y2="414.7" stroke="#111" stroke-width="0.9"/><line x1="560.4" y1="405.8" x2="564.1999999999999" y2="405.8" stroke="#111" stroke-width="0.9"/><line x1="560.4" y1="414.7" x2="564.1999999999999" y2="414.7" stroke="#111" stroke-width="0.9"/><circle cx="562.3" cy="410.3" r="2.45" fill="none" stroke="#111" stroke-width="1.0"/>
<line x1="563.4" y1="410.9" x2="563.4" y2="417.9" stroke="#111" stroke-width="0.9"/><line x1="561.5" y1="410.9" x2="565.3" y2="410.9" stroke="#111" stroke-width="0.9"/><line x1="561.5" y1="417.9" x2="565.3" y2="417.9" stroke="#111" stroke-width="0.9"/><circle cx="563.4" cy="414.4" r="2.45" fill="none" stroke="#111" stroke-width="1.0"/>
<line x1="565.2" y1="414.2" x2="565.2" y2="421.9" stroke="#111" stroke-width="0.9"/><line x1="563.3000000000001" y1="414.2" x2="567.1" y2="414.2" stroke="#111" stroke-width="0.9"/><line x1="563.3000000000001" y1="421.9" x2="567.1" y2="421.9" stroke="#111" stroke-width="0.9"/><circle cx="565.2" cy="418.0" r="2.45" fill="none" stroke="#111" stroke-width="1.0"/>
<line x1="566.2" y1="416.0" x2="566.2" y2="424.1" stroke="#111" stroke-width="0.9"/><line x1="564.3000000000001" y1="416.0" x2="568.1" y2="416.0" stroke="#111" stroke-width="0.9"/><line x1="564.3000000000001" y1="424.1" x2="568.1" y2="424.1" stroke="#111" stroke-width="0.9"/><circle cx="566.2" cy="420.0" r="2.45" fill="none" stroke="#111" stroke-width="1.0"/>
<line x1="567.6" y1="412.0" x2="567.6" y2="419.2" stroke="#111" stroke-width="0.9"/><line x1="565.7" y1="412.0" x2="569.5" y2="412.0" stroke="#111" stroke-width="0.9"/><line x1="565.7" y1="419.2" x2="569.5" y2="419.2" stroke="#111" stroke-width="0.9"/><circle cx="567.6" cy="415.6" r="2.45" fill="none" stroke="#111" stroke-width="1.0"/>
<line x1="569.0" y1="413.1" x2="569.0" y2="420.3" stroke="#111" stroke-width="0.9"/><line x1="567.1" y1="413.1" x2="570.9" y2="413.1" stroke="#111" stroke-width="0.9"/><line x1="567.1" y1="420.3" x2="570.9" y2="420.3" stroke="#111" stroke-width="0.9"/><circle cx="569.0" cy="416.7" r="2.45" fill="none" stroke="#111" stroke-width="1.0"/>
<line x1="570.5" y1="391.9" x2="570.5" y2="402.9" stroke="#111" stroke-width="0.9"/><line x1="568.6" y1="391.9" x2="572.4" y2="391.9" stroke="#111" stroke-width="0.9"/><line x1="568.6" y1="402.9" x2="572.4" y2="402.9" stroke="#111" stroke-width="0.9"/><circle cx="570.5" cy="397.4" r="2.45" fill="none" stroke="#111" stroke-width="1.0"/>
<line x1="572.2" y1="382.1" x2="572.2" y2="390.6" stroke="#111" stroke-width="0.9"/><line x1="570.3000000000001" y1="382.1" x2="574.1" y2="382.1" stroke="#111" stroke-width="0.9"/><line x1="570.3000000000001" y1="390.6" x2="574.1" y2="390.6" stroke="#111" stroke-width="0.9"/><circle cx="572.2" cy="386.4" r="2.45" fill="none" stroke="#111" stroke-width="1.0"/>
<line x1="573.0" y1="384.3" x2="573.0" y2="393.5" stroke="#111" stroke-width="0.9"/><line x1="571.1" y1="384.3" x2="574.9" y2="384.3" stroke="#111" stroke-width="0.9"/><line x1="571.1" y1="393.5" x2="574.9" y2="393.5" stroke="#111" stroke-width="0.9"/><circle cx="573.0" cy="388.9" r="2.45" fill="none" stroke="#111" stroke-width="1.0"/>
<line x1="574.2" y1="395.4" x2="574.2" y2="403.1" stroke="#111" stroke-width="0.9"/><line x1="572.3000000000001" y1="395.4" x2="576.1" y2="395.4" stroke="#111" stroke-width="0.9"/><line x1="572.3000000000001" y1="403.1" x2="576.1" y2="403.1" stroke="#111" stroke-width="0.9"/><circle cx="574.2" cy="399.2" r="2.45" fill="none" stroke="#111" stroke-width="1.0"/>
<line x1="576.0" y1="401.4" x2="576.0" y2="409.8" stroke="#111" stroke-width="0.9"/><line x1="574.1" y1="401.4" x2="577.9" y2="401.4" stroke="#111" stroke-width="0.9"/><line x1="574.1" y1="409.8" x2="577.9" y2="409.8" stroke="#111" stroke-width="0.9"/><circle cx="576.0" cy="405.6" r="2.45" fill="none" stroke="#111" stroke-width="1.0"/>
<line x1="577.2" y1="399.3" x2="577.2" y2="406.8" stroke="#111" stroke-width="0.9"/><line x1="575.3000000000001" y1="399.3" x2="579.1" y2="399.3" stroke="#111" stroke-width="0.9"/><line x1="575.3000000000001" y1="406.8" x2="579.1" y2="406.8" stroke="#111" stroke-width="0.9"/><circle cx="577.2" cy="403.1" r="2.45" fill="none" stroke="#111" stroke-width="1.0"/>
<line x1="578.4" y1="398.4" x2="578.4" y2="405.9" stroke="#111" stroke-width="0.9"/><line x1="576.5" y1="398.4" x2="580.3" y2="398.4" stroke="#111" stroke-width="0.9"/><line x1="576.5" y1="405.9" x2="580.3" y2="405.9" stroke="#111" stroke-width="0.9"/><circle cx="578.4" cy="402.2" r="2.45" fill="none" stroke="#111" stroke-width="1.0"/>
<line x1="580.1" y1="407.5" x2="580.1" y2="416.1" stroke="#111" stroke-width="0.9"/><line x1="578.2" y1="407.5" x2="582.0" y2="407.5" stroke="#111" stroke-width="0.9"/><line x1="578.2" y1="416.1" x2="582.0" y2="416.1" stroke="#111" stroke-width="0.9"/><circle cx="580.1" cy="411.8" r="2.45" fill="none" stroke="#111" stroke-width="1.0"/>
<line x1="581.2" y1="409.7" x2="581.2" y2="418.6" stroke="#111" stroke-width="0.9"/><line x1="579.3000000000001" y1="409.7" x2="583.1" y2="409.7" stroke="#111" stroke-width="0.9"/><line x1="579.3000000000001" y1="418.6" x2="583.1" y2="418.6" stroke="#111" stroke-width="0.9"/><circle cx="581.2" cy="414.1" r="2.45" fill="none" stroke="#111" stroke-width="1.0"/>
<line x1="582.6" y1="412.1" x2="582.6" y2="419.3" stroke="#111" stroke-width="0.9"/><line x1="580.7" y1="412.1" x2="584.5" y2="412.1" stroke="#111" stroke-width="0.9"/><line x1="580.7" y1="419.3" x2="584.5" y2="419.3" stroke="#111" stroke-width="0.9"/><circle cx="582.6" cy="415.7" r="2.45" fill="none" stroke="#111" stroke-width="1.0"/>
<line x1="584.5" y1="423.7" x2="584.5" y2="430.1" stroke="#111" stroke-width="0.9"/><line x1="582.6" y1="423.7" x2="586.4" y2="423.7" stroke="#111" stroke-width="0.9"/><line x1="582.6" y1="430.1" x2="586.4" y2="430.1" stroke="#111" stroke-width="0.9"/><circle cx="584.5" cy="426.9" r="2.45" fill="none" stroke="#111" stroke-width="1.0"/>
<line x1="586.4" y1="432.9" x2="586.4" y2="439.6" stroke="#111" stroke-width="0.9"/><line x1="584.5" y1="432.9" x2="588.3" y2="432.9" stroke="#111" stroke-width="0.9"/><line x1="584.5" y1="439.6" x2="588.3" y2="439.6" stroke="#111" stroke-width="0.9"/><circle cx="586.4" cy="436.2" r="2.45" fill="none" stroke="#111" stroke-width="1.0"/>
<line x1="586.3" y1="432.5" x2="586.3" y2="438.6" stroke="#111" stroke-width="0.9"/><line x1="584.4" y1="432.5" x2="588.1999999999999" y2="432.5" stroke="#111" stroke-width="0.9"/><line x1="584.4" y1="438.6" x2="588.1999999999999" y2="438.6" stroke="#111" stroke-width="0.9"/><circle cx="586.3" cy="435.6" r="2.45" fill="none" stroke="#111" stroke-width="1.0"/>
<line x1="587.6" y1="423.4" x2="587.6" y2="429.5" stroke="#111" stroke-width="0.9"/><line x1="585.7" y1="423.4" x2="589.5" y2="423.4" stroke="#111" stroke-width="0.9"/><line x1="585.7" y1="429.5" x2="589.5" y2="429.5" stroke="#111" stroke-width="0.9"/><circle cx="587.6" cy="426.5" r="2.45" fill="none" stroke="#111" stroke-width="1.0"/>
<line x1="589.4" y1="420.3" x2="589.4" y2="426.8" stroke="#111" stroke-width="0.9"/><line x1="587.5" y1="420.3" x2="591.3" y2="420.3" stroke="#111" stroke-width="0.9"/><line x1="587.5" y1="426.8" x2="591.3" y2="426.8" stroke="#111" stroke-width="0.9"/><circle cx="589.4" cy="423.6" r="2.45" fill="none" stroke="#111" stroke-width="1.0"/>
<line x1="590.9" y1="418.3" x2="590.9" y2="425.9" stroke="#111" stroke-width="0.9"/><line x1="589.0" y1="418.3" x2="592.8" y2="418.3" stroke="#111" stroke-width="0.9"/><line x1="589.0" y1="425.9" x2="592.8" y2="425.9" stroke="#111" stroke-width="0.9"/><circle cx="590.9" cy="422.1" r="2.45" fill="none" stroke="#111" stroke-width="1.0"/>
<line x1="592.2" y1="413.4" x2="592.2" y2="420.8" stroke="#111" stroke-width="0.9"/><line x1="590.3000000000001" y1="413.4" x2="594.1" y2="413.4" stroke="#111" stroke-width="0.9"/><line x1="590.3000000000001" y1="420.8" x2="594.1" y2="420.8" stroke="#111" stroke-width="0.9"/><circle cx="592.2" cy="417.1" r="2.45" fill="none" stroke="#111" stroke-width="1.0"/>
<line x1="593.6" y1="407.7" x2="593.6" y2="415.2" stroke="#111" stroke-width="0.9"/><line x1="591.7" y1="407.7" x2="595.5" y2="407.7" stroke="#111" stroke-width="0.9"/><line x1="591.7" y1="415.2" x2="595.5" y2="415.2" stroke="#111" stroke-width="0.9"/><circle cx="593.6" cy="411.4" r="2.45" fill="none" stroke="#111" stroke-width="1.0"/>
<line x1="594.6" y1="390.0" x2="594.6" y2="398.1" stroke="#111" stroke-width="0.9"/><line x1="592.7" y1="390.0" x2="596.5" y2="390.0" stroke="#111" stroke-width="0.9"/><line x1="592.7" y1="398.1" x2="596.5" y2="398.1" stroke="#111" stroke-width="0.9"/><circle cx="594.6" cy="394.0" r="2.45" fill="none" stroke="#111" stroke-width="1.0"/>
<line x1="596.5" y1="391.6" x2="596.5" y2="401.4" stroke="#111" stroke-width="0.9"/><line x1="594.6" y1="391.6" x2="598.4" y2="391.6" stroke="#111" stroke-width="0.9"/><line x1="594.6" y1="401.4" x2="598.4" y2="401.4" stroke="#111" stroke-width="0.9"/><circle cx="596.5" cy="396.5" r="2.45" fill="none" stroke="#111" stroke-width="1.0"/>
<line x1="598.2" y1="390.7" x2="598.2" y2="399.9" stroke="#111" stroke-width="0.9"/><line x1="596.3000000000001" y1="390.7" x2="600.1" y2="390.7" stroke="#111" stroke-width="0.9"/><line x1="596.3000000000001" y1="399.9" x2="600.1" y2="399.9" stroke="#111" stroke-width="0.9"/><circle cx="598.2" cy="395.3" r="2.45" fill="none" stroke="#111" stroke-width="1.0"/>
<line x1="599.5" y1="402.2" x2="599.5" y2="410.0" stroke="#111" stroke-width="0.9"/><line x1="597.6" y1="402.2" x2="601.4" y2="402.2" stroke="#111" stroke-width="0.9"/><line x1="597.6" y1="410.0" x2="601.4" y2="410.0" stroke="#111" stroke-width="0.9"/><circle cx="599.5" cy="406.1" r="2.45" fill="none" stroke="#111" stroke-width="1.0"/>
<line x1="600.3" y1="410.2" x2="600.3" y2="417.3" stroke="#111" stroke-width="0.9"/><line x1="598.4" y1="410.2" x2="602.1999999999999" y2="410.2" stroke="#111" stroke-width="0.9"/><line x1="598.4" y1="417.3" x2="602.1999999999999" y2="417.3" stroke="#111" stroke-width="0.9"/><circle cx="600.3" cy="413.7" r="2.45" fill="none" stroke="#111" stroke-width="1.0"/>
<line x1="601.9" y1="405.6" x2="601.9" y2="413.8" stroke="#111" stroke-width="0.9"/><line x1="600.0" y1="405.6" x2="603.8" y2="405.6" stroke="#111" stroke-width="0.9"/><line x1="600.0" y1="413.8" x2="603.8" y2="413.8" stroke="#111" stroke-width="0.9"/><circle cx="601.9" cy="409.7" r="2.45" fill="none" stroke="#111" stroke-width="1.0"/>
<line x1="603.2" y1="419.9" x2="603.2" y2="426.6" stroke="#111" stroke-width="0.9"/><line x1="601.3000000000001" y1="419.9" x2="605.1" y2="419.9" stroke="#111" stroke-width="0.9"/><line x1="601.3000000000001" y1="426.6" x2="605.1" y2="426.6" stroke="#111" stroke-width="0.9"/><circle cx="603.2" cy="423.3" r="2.45" fill="none" stroke="#111" stroke-width="1.0"/>
<line x1="604.4" y1="420.5" x2="604.4" y2="427.7" stroke="#111" stroke-width="0.9"/><line x1="602.5" y1="420.5" x2="606.3" y2="420.5" stroke="#111" stroke-width="0.9"/><line x1="602.5" y1="427.7" x2="606.3" y2="427.7" stroke="#111" stroke-width="0.9"/><circle cx="604.4" cy="424.1" r="2.45" fill="none" stroke="#111" stroke-width="1.0"/>
<line x1="606.3" y1="411.2" x2="606.3" y2="419.8" stroke="#111" stroke-width="0.9"/><line x1="604.4" y1="411.2" x2="608.1999999999999" y2="411.2" stroke="#111" stroke-width="0.9"/><line x1="604.4" y1="419.8" x2="608.1999999999999" y2="419.8" stroke="#111" stroke-width="0.9"/><circle cx="606.3" cy="415.5" r="2.45" fill="none" stroke="#111" stroke-width="1.0"/>
<line x1="607.8" y1="402.5" x2="607.8" y2="410.3" stroke="#111" stroke-width="0.9"/><line x1="605.9" y1="402.5" x2="609.6999999999999" y2="402.5" stroke="#111" stroke-width="0.9"/><line x1="605.9" y1="410.3" x2="609.6999999999999" y2="410.3" stroke="#111" stroke-width="0.9"/><circle cx="607.8" cy="406.4" r="2.45" fill="none" stroke="#111" stroke-width="1.0"/>
<line x1="608.9" y1="393.2" x2="608.9" y2="401.2" stroke="#111" stroke-width="0.9"/><line x1="607.0" y1="393.2" x2="610.8" y2="393.2" stroke="#111" stroke-width="0.9"/><line x1="607.0" y1="401.2" x2="610.8" y2="401.2" stroke="#111" stroke-width="0.9"/><circle cx="608.9" cy="397.2" r="2.45" fill="none" stroke="#111" stroke-width="1.0"/>
<line x1="610.1" y1="347.4" x2="610.1" y2="357.7" stroke="#111" stroke-width="0.9"/><line x1="608.2" y1="347.4" x2="612.0" y2="347.4" stroke="#111" stroke-width="0.9"/><line x1="608.2" y1="357.7" x2="612.0" y2="357.7" stroke="#111" stroke-width="0.9"/><circle cx="610.1" cy="352.6" r="2.45" fill="none" stroke="#111" stroke-width="1.0"/>
<line x1="611.2" y1="318.7" x2="611.2" y2="331.4" stroke="#111" stroke-width="0.9"/><line x1="609.3000000000001" y1="318.7" x2="613.1" y2="318.7" stroke="#111" stroke-width="0.9"/><line x1="609.3000000000001" y1="331.4" x2="613.1" y2="331.4" stroke="#111" stroke-width="0.9"/><circle cx="611.2" cy="325.0" r="2.45" fill="none" stroke="#111" stroke-width="1.0"/>
<line x1="613.1" y1="332.9" x2="613.1" y2="344.4" stroke="#111" stroke-width="0.9"/><line x1="611.2" y1="332.9" x2="615.0" y2="332.9" stroke="#111" stroke-width="0.9"/><line x1="611.2" y1="344.4" x2="615.0" y2="344.4" stroke="#111" stroke-width="0.9"/><circle cx="613.1" cy="338.6" r="2.45" fill="none" stroke="#111" stroke-width="1.0"/>
<line x1="613.7" y1="364.0" x2="613.7" y2="374.5" stroke="#111" stroke-width="0.9"/><line x1="611.8000000000001" y1="364.0" x2="615.6" y2="364.0" stroke="#111" stroke-width="0.9"/><line x1="611.8000000000001" y1="374.5" x2="615.6" y2="374.5" stroke="#111" stroke-width="0.9"/><circle cx="613.7" cy="369.3" r="2.45" fill="none" stroke="#111" stroke-width="1.0"/>
<line x1="615.4" y1="391.8" x2="615.4" y2="400.5" stroke="#111" stroke-width="0.9"/><line x1="613.5" y1="391.8" x2="617.3" y2="391.8" stroke="#111" stroke-width="0.9"/><line x1="613.5" y1="400.5" x2="617.3" y2="400.5" stroke="#111" stroke-width="0.9"/><circle cx="615.4" cy="396.1" r="2.45" fill="none" stroke="#111" stroke-width="1.0"/>
<line x1="616.0" y1="408.9" x2="616.0" y2="416.2" stroke="#111" stroke-width="0.9"/><line x1="614.1" y1="408.9" x2="617.9" y2="408.9" stroke="#111" stroke-width="0.9"/><line x1="614.1" y1="416.2" x2="617.9" y2="416.2" stroke="#111" stroke-width="0.9"/><circle cx="616.0" cy="412.5" r="2.45" fill="none" stroke="#111" stroke-width="1.0"/>
<line x1="618.3" y1="416.3" x2="618.3" y2="424.2" stroke="#111" stroke-width="0.9"/><line x1="616.4" y1="416.3" x2="620.1999999999999" y2="416.3" stroke="#111" stroke-width="0.9"/><line x1="616.4" y1="424.2" x2="620.1999999999999" y2="424.2" stroke="#111" stroke-width="0.9"/><circle cx="618.3" cy="420.2" r="2.45" fill="none" stroke="#111" stroke-width="1.0"/>
<line x1="619.5" y1="421.6" x2="619.5" y2="428.9" stroke="#111" stroke-width="0.9"/><line x1="617.6" y1="421.6" x2="621.4" y2="421.6" stroke="#111" stroke-width="0.9"/><line x1="617.6" y1="428.9" x2="621.4" y2="428.9" stroke="#111" stroke-width="0.9"/><circle cx="619.5" cy="425.3" r="2.45" fill="none" stroke="#111" stroke-width="1.0"/>
<line x1="620.7" y1="423.2" x2="620.7" y2="429.1" stroke="#111" stroke-width="0.9"/><line x1="618.8000000000001" y1="423.2" x2="622.6" y2="423.2" stroke="#111" stroke-width="0.9"/><line x1="618.8000000000001" y1="429.1" x2="622.6" y2="429.1" stroke="#111" stroke-width="0.9"/><circle cx="620.7" cy="426.1" r="2.45" fill="none" stroke="#111" stroke-width="1.0"/>
<line x1="622.6" y1="428.3" x2="622.6" y2="434.9" stroke="#111" stroke-width="0.9"/><line x1="620.7" y1="428.3" x2="624.5" y2="428.3" stroke="#111" stroke-width="0.9"/><line x1="620.7" y1="434.9" x2="624.5" y2="434.9" stroke="#111" stroke-width="0.9"/><circle cx="622.6" cy="431.6" r="2.45" fill="none" stroke="#111" stroke-width="1.0"/>
<line x1="623.8" y1="430.9" x2="623.8" y2="437.2" stroke="#111" stroke-width="0.9"/><line x1="621.9" y1="430.9" x2="625.6999999999999" y2="430.9" stroke="#111" stroke-width="0.9"/><line x1="621.9" y1="437.2" x2="625.6999999999999" y2="437.2" stroke="#111" stroke-width="0.9"/><circle cx="623.8" cy="434.0" r="2.45" fill="none" stroke="#111" stroke-width="1.0"/>
<line x1="625.1" y1="430.3" x2="625.1" y2="436.5" stroke="#111" stroke-width="0.9"/><line x1="623.2" y1="430.3" x2="627.0" y2="430.3" stroke="#111" stroke-width="0.9"/><line x1="623.2" y1="436.5" x2="627.0" y2="436.5" stroke="#111" stroke-width="0.9"/><circle cx="625.1" cy="433.4" r="2.45" fill="none" stroke="#111" stroke-width="1.0"/>
<line x1="626.2" y1="434.7" x2="626.2" y2="440.7" stroke="#111" stroke-width="0.9"/><line x1="624.3000000000001" y1="434.7" x2="628.1" y2="434.7" stroke="#111" stroke-width="0.9"/><line x1="624.3000000000001" y1="440.7" x2="628.1" y2="440.7" stroke="#111" stroke-width="0.9"/><circle cx="626.2" cy="437.7" r="2.45" fill="none" stroke="#111" stroke-width="1.0"/>
<line x1="627.5" y1="436.0" x2="627.5" y2="444.0" stroke="#111" stroke-width="0.9"/><line x1="625.6" y1="436.0" x2="629.4" y2="436.0" stroke="#111" stroke-width="0.9"/><line x1="625.6" y1="444.0" x2="629.4" y2="444.0" stroke="#111" stroke-width="0.9"/><circle cx="627.5" cy="440.0" r="2.45" fill="none" stroke="#111" stroke-width="1.0"/>
<line x1="629.3" y1="437.1" x2="629.3" y2="443.0" stroke="#111" stroke-width="0.9"/><line x1="627.4" y1="437.1" x2="631.1999999999999" y2="437.1" stroke="#111" stroke-width="0.9"/><line x1="627.4" y1="443.0" x2="631.1999999999999" y2="443.0" stroke="#111" stroke-width="0.9"/><circle cx="629.3" cy="440.1" r="2.45" fill="none" stroke="#111" stroke-width="1.0"/>
<line x1="629.6" y1="437.1" x2="629.6" y2="443.8" stroke="#111" stroke-width="0.9"/><line x1="627.7" y1="437.1" x2="631.5" y2="437.1" stroke="#111" stroke-width="0.9"/><line x1="627.7" y1="443.8" x2="631.5" y2="443.8" stroke="#111" stroke-width="0.9"/><circle cx="629.6" cy="440.4" r="2.45" fill="none" stroke="#111" stroke-width="1.0"/>
<line x1="631.8" y1="435.0" x2="631.8" y2="441.5" stroke="#111" stroke-width="0.9"/><line x1="629.9" y1="435.0" x2="633.6999999999999" y2="435.0" stroke="#111" stroke-width="0.9"/><line x1="629.9" y1="441.5" x2="633.6999999999999" y2="441.5" stroke="#111" stroke-width="0.9"/><circle cx="631.8" cy="438.2" r="2.45" fill="none" stroke="#111" stroke-width="1.0"/>
<line x1="633.4" y1="435.4" x2="633.4" y2="441.5" stroke="#111" stroke-width="0.9"/><line x1="631.5" y1="435.4" x2="635.3" y2="435.4" stroke="#111" stroke-width="0.9"/><line x1="631.5" y1="441.5" x2="635.3" y2="441.5" stroke="#111" stroke-width="0.9"/><circle cx="633.4" cy="438.5" r="2.45" fill="none" stroke="#111" stroke-width="1.0"/>
<line x1="634.4" y1="441.8" x2="634.4" y2="450.4" stroke="#111" stroke-width="0.9"/><line x1="632.5" y1="441.8" x2="636.3" y2="441.8" stroke="#111" stroke-width="0.9"/><line x1="632.5" y1="450.4" x2="636.3" y2="450.4" stroke="#111" stroke-width="0.9"/><circle cx="634.4" cy="446.1" r="2.45" fill="none" stroke="#111" stroke-width="1.0"/>
<line x1="635.8" y1="439.7" x2="635.8" y2="444.9" stroke="#111" stroke-width="0.9"/><line x1="633.9" y1="439.7" x2="637.6999999999999" y2="439.7" stroke="#111" stroke-width="0.9"/><line x1="633.9" y1="444.9" x2="637.6999999999999" y2="444.9" stroke="#111" stroke-width="0.9"/><circle cx="635.8" cy="442.3" r="2.45" fill="none" stroke="#111" stroke-width="1.0"/>
<line x1="637.5" y1="435.1" x2="637.5" y2="441.5" stroke="#111" stroke-width="0.9"/><line x1="635.6" y1="435.1" x2="639.4" y2="435.1" stroke="#111" stroke-width="0.9"/><line x1="635.6" y1="441.5" x2="639.4" y2="441.5" stroke="#111" stroke-width="0.9"/><circle cx="637.5" cy="438.3" r="2.45" fill="none" stroke="#111" stroke-width="1.0"/>
<line x1="638.3" y1="442.5" x2="638.3" y2="447.8" stroke="#111" stroke-width="0.9"/><line x1="636.4" y1="442.5" x2="640.1999999999999" y2="442.5" stroke="#111" stroke-width="0.9"/><line x1="636.4" y1="447.8" x2="640.1999999999999" y2="447.8" stroke="#111" stroke-width="0.9"/><circle cx="638.3" cy="445.2" r="2.45" fill="none" stroke="#111" stroke-width="1.0"/>
<line x1="640.1" y1="440.2" x2="640.1" y2="445.6" stroke="#111" stroke-width="0.9"/><line x1="638.2" y1="440.2" x2="642.0" y2="440.2" stroke="#111" stroke-width="0.9"/><line x1="638.2" y1="445.6" x2="642.0" y2="445.6" stroke="#111" stroke-width="0.9"/><circle cx="640.1" cy="442.9" r="2.45" fill="none" stroke="#111" stroke-width="1.0"/>
<line x1="641.4" y1="440.3" x2="641.4" y2="446.2" stroke="#111" stroke-width="0.9"/><line x1="639.5" y1="440.3" x2="643.3" y2="440.3" stroke="#111" stroke-width="0.9"/><line x1="639.5" y1="446.2" x2="643.3" y2="446.2" stroke="#111" stroke-width="0.9"/><circle cx="641.4" cy="443.2" r="2.45" fill="none" stroke="#111" stroke-width="1.0"/>
<line x1="643.0" y1="437.0" x2="643.0" y2="443.1" stroke="#111" stroke-width="0.9"/><line x1="641.1" y1="437.0" x2="644.9" y2="437.0" stroke="#111" stroke-width="0.9"/><line x1="641.1" y1="443.1" x2="644.9" y2="443.1" stroke="#111" stroke-width="0.9"/><circle cx="643.0" cy="440.0" r="2.45" fill="none" stroke="#111" stroke-width="1.0"/>
<line x1="643.7" y1="437.4" x2="643.7" y2="443.0" stroke="#111" stroke-width="0.9"/><line x1="641.8000000000001" y1="437.4" x2="645.6" y2="437.4" stroke="#111" stroke-width="0.9"/><line x1="641.8000000000001" y1="443.0" x2="645.6" y2="443.0" stroke="#111" stroke-width="0.9"/><circle cx="643.7" cy="440.2" r="2.45" fill="none" stroke="#111" stroke-width="1.0"/>
<line x1="645.3" y1="443.2" x2="645.3" y2="449.4" stroke="#111" stroke-width="0.9"/><line x1="643.4" y1="443.2" x2="647.1999999999999" y2="443.2" stroke="#111" stroke-width="0.9"/><line x1="643.4" y1="449.4" x2="647.1999999999999" y2="449.4" stroke="#111" stroke-width="0.9"/><circle cx="645.3" cy="446.3" r="2.45" fill="none" stroke="#111" stroke-width="1.0"/>
<line x1="646.6" y1="443.4" x2="646.6" y2="449.1" stroke="#111" stroke-width="0.9"/><line x1="644.7" y1="443.4" x2="648.5" y2="443.4" stroke="#111" stroke-width="0.9"/><line x1="644.7" y1="449.1" x2="648.5" y2="449.1" stroke="#111" stroke-width="0.9"/><circle cx="646.6" cy="446.2" r="2.45" fill="none" stroke="#111" stroke-width="1.0"/>
<line x1="648.0" y1="439.6" x2="648.0" y2="444.9" stroke="#111" stroke-width="0.9"/><line x1="646.1" y1="439.6" x2="649.9" y2="439.6" stroke="#111" stroke-width="0.9"/><line x1="646.1" y1="444.9" x2="649.9" y2="444.9" stroke="#111" stroke-width="0.9"/><circle cx="648.0" cy="442.2" r="2.45" fill="none" stroke="#111" stroke-width="1.0"/>
<line x1="649.7" y1="441.3" x2="649.7" y2="447.2" stroke="#111" stroke-width="0.9"/><line x1="647.8000000000001" y1="441.3" x2="651.6" y2="441.3" stroke="#111" stroke-width="0.9"/><line x1="647.8000000000001" y1="447.2" x2="651.6" y2="447.2" stroke="#111" stroke-width="0.9"/><circle cx="649.7" cy="444.3" r="2.45" fill="none" stroke="#111" stroke-width="1.0"/>
<line x1="650.4" y1="443.8" x2="650.4" y2="449.5" stroke="#111" stroke-width="0.9"/><line x1="648.5" y1="443.8" x2="652.3" y2="443.8" stroke="#111" stroke-width="0.9"/><line x1="648.5" y1="449.5" x2="652.3" y2="449.5" stroke="#111" stroke-width="0.9"/><circle cx="650.4" cy="446.6" r="2.45" fill="none" stroke="#111" stroke-width="1.0"/>
<line x1="652.1" y1="442.7" x2="652.1" y2="449.2" stroke="#111" stroke-width="0.9"/><line x1="650.2" y1="442.7" x2="654.0" y2="442.7" stroke="#111" stroke-width="0.9"/><line x1="650.2" y1="449.2" x2="654.0" y2="449.2" stroke="#111" stroke-width="0.9"/><circle cx="652.1" cy="446.0" r="2.45" fill="none" stroke="#111" stroke-width="1.0"/>
<line x1="654.0" y1="438.1" x2="654.0" y2="443.5" stroke="#111" stroke-width="0.9"/><line x1="652.1" y1="438.1" x2="655.9" y2="438.1" stroke="#111" stroke-width="0.9"/><line x1="652.1" y1="443.5" x2="655.9" y2="443.5" stroke="#111" stroke-width="0.9"/><circle cx="654.0" cy="440.8" r="2.45" fill="none" stroke="#111" stroke-width="1.0"/>
<line x1="654.8" y1="436.5" x2="654.8" y2="442.2" stroke="#111" stroke-width="0.9"/><line x1="652.9" y1="436.5" x2="656.6999999999999" y2="436.5" stroke="#111" stroke-width="0.9"/><line x1="652.9" y1="442.2" x2="656.6999999999999" y2="442.2" stroke="#111" stroke-width="0.9"/><circle cx="654.8" cy="439.4" r="2.45" fill="none" stroke="#111" stroke-width="1.0"/>
<line x1="655.9" y1="439.3" x2="655.9" y2="445.0" stroke="#111" stroke-width="0.9"/><line x1="654.0" y1="439.3" x2="657.8" y2="439.3" stroke="#111" stroke-width="0.9"/><line x1="654.0" y1="445.0" x2="657.8" y2="445.0" stroke="#111" stroke-width="0.9"/><circle cx="655.9" cy="442.1" r="2.45" fill="none" stroke="#111" stroke-width="1.0"/>
<line x1="657.7" y1="441.9" x2="657.7" y2="448.6" stroke="#111" stroke-width="0.9"/><line x1="655.8000000000001" y1="441.9" x2="659.6" y2="441.9" stroke="#111" stroke-width="0.9"/><line x1="655.8000000000001" y1="448.6" x2="659.6" y2="448.6" stroke="#111" stroke-width="0.9"/><circle cx="657.7" cy="445.3" r="2.45" fill="none" stroke="#111" stroke-width="1.0"/>
<line x1="658.6" y1="438.7" x2="658.6" y2="445.9" stroke="#111" stroke-width="0.9"/><line x1="656.7" y1="438.7" x2="660.5" y2="438.7" stroke="#111" stroke-width="0.9"/><line x1="656.7" y1="445.9" x2="660.5" y2="445.9" stroke="#111" stroke-width="0.9"/><circle cx="658.6" cy="442.3" r="2.45" fill="none" stroke="#111" stroke-width="1.0"/>
<line x1="660.3" y1="436.4" x2="660.3" y2="443.4" stroke="#111" stroke-width="0.9"/><line x1="658.4" y1="436.4" x2="662.1999999999999" y2="436.4" stroke="#111" stroke-width="0.9"/><line x1="658.4" y1="443.4" x2="662.1999999999999" y2="443.4" stroke="#111" stroke-width="0.9"/><circle cx="660.3" cy="439.9" r="2.45" fill="none" stroke="#111" stroke-width="1.0"/>
<line x1="661.4" y1="438.7" x2="661.4" y2="445.3" stroke="#111" stroke-width="0.9"/><line x1="659.5" y1="438.7" x2="663.3" y2="438.7" stroke="#111" stroke-width="0.9"/><line x1="659.5" y1="445.3" x2="663.3" y2="445.3" stroke="#111" stroke-width="0.9"/><circle cx="661.4" cy="442.0" r="2.45" fill="none" stroke="#111" stroke-width="1.0"/>
<line x1="663.6" y1="440.7" x2="663.6" y2="447.3" stroke="#111" stroke-width="0.9"/><line x1="661.7" y1="440.7" x2="665.5" y2="440.7" stroke="#111" stroke-width="0.9"/><line x1="661.7" y1="447.3" x2="665.5" y2="447.3" stroke="#111" stroke-width="0.9"/><circle cx="663.6" cy="444.0" r="2.45" fill="none" stroke="#111" stroke-width="1.0"/>
<line x1="664.5" y1="440.0" x2="664.5" y2="446.0" stroke="#111" stroke-width="0.9"/><line x1="662.6" y1="440.0" x2="666.4" y2="440.0" stroke="#111" stroke-width="0.9"/><line x1="662.6" y1="446.0" x2="666.4" y2="446.0" stroke="#111" stroke-width="0.9"/><circle cx="664.5" cy="443.0" r="2.45" fill="none" stroke="#111" stroke-width="1.0"/>
<line x1="665.6" y1="445.4" x2="665.6" y2="452.1" stroke="#111" stroke-width="0.9"/><line x1="663.7" y1="445.4" x2="667.5" y2="445.4" stroke="#111" stroke-width="0.9"/><line x1="663.7" y1="452.1" x2="667.5" y2="452.1" stroke="#111" stroke-width="0.9"/><circle cx="665.6" cy="448.8" r="2.45" fill="none" stroke="#111" stroke-width="1.0"/>
<line x1="667.3" y1="443.1" x2="667.3" y2="448.3" stroke="#111" stroke-width="0.9"/><line x1="665.4" y1="443.1" x2="669.1999999999999" y2="443.1" stroke="#111" stroke-width="0.9"/><line x1="665.4" y1="448.3" x2="669.1999999999999" y2="448.3" stroke="#111" stroke-width="0.9"/><circle cx="667.3" cy="445.7" r="2.45" fill="none" stroke="#111" stroke-width="1.0"/>
<line x1="668.1" y1="442.7" x2="668.1" y2="448.9" stroke="#111" stroke-width="0.9"/><line x1="666.2" y1="442.7" x2="670.0" y2="442.7" stroke="#111" stroke-width="0.9"/><line x1="666.2" y1="448.9" x2="670.0" y2="448.9" stroke="#111" stroke-width="0.9"/><circle cx="668.1" cy="445.8" r="2.45" fill="none" stroke="#111" stroke-width="1.0"/>
<line x1="670.3" y1="442.4" x2="670.3" y2="448.8" stroke="#111" stroke-width="0.9"/><line x1="668.4" y1="442.4" x2="672.1999999999999" y2="442.4" stroke="#111" stroke-width="0.9"/><line x1="668.4" y1="448.8" x2="672.1999999999999" y2="448.8" stroke="#111" stroke-width="0.9"/><circle cx="670.3" cy="445.6" r="2.45" fill="none" stroke="#111" stroke-width="1.0"/>
<line x1="671.1" y1="442.2" x2="671.1" y2="448.4" stroke="#111" stroke-width="0.9"/><line x1="669.2" y1="442.2" x2="673.0" y2="442.2" stroke="#111" stroke-width="0.9"/><line x1="669.2" y1="448.4" x2="673.0" y2="448.4" stroke="#111" stroke-width="0.9"/><circle cx="671.1" cy="445.3" r="2.45" fill="none" stroke="#111" stroke-width="1.0"/>
<line x1="462.6" y1="426.6" x2="462.6" y2="433.5" stroke="#111" stroke-width="0.9"/><line x1="460.70000000000005" y1="426.6" x2="464.5" y2="426.6" stroke="#111" stroke-width="0.9"/><line x1="460.70000000000005" y1="433.5" x2="464.5" y2="433.5" stroke="#111" stroke-width="0.9"/><circle cx="462.6" cy="429.7" r="2.45" fill="none" stroke="#111" stroke-width="1.0"/>
<line x1="471.9" y1="430.3" x2="471.9" y2="436.3" stroke="#111" stroke-width="0.9"/><line x1="470.0" y1="430.3" x2="473.79999999999995" y2="430.3" stroke="#111" stroke-width="0.9"/><line x1="470.0" y1="436.3" x2="473.79999999999995" y2="436.3" stroke="#111" stroke-width="0.9"/><circle cx="471.9" cy="433.3" r="2.45" fill="none" stroke="#111" stroke-width="1.0"/>
<line x1="649.9" y1="431.3" x2="649.9" y2="438.2" stroke="#111" stroke-width="0.9"/><line x1="648.0" y1="431.3" x2="651.8" y2="431.3" stroke="#111" stroke-width="0.9"/><line x1="648.0" y1="438.2" x2="651.8" y2="438.2" stroke="#111" stroke-width="0.9"/><circle cx="649.9" cy="434.6" r="2.45" fill="none" stroke="#111" stroke-width="1.0"/>
<line x1="612.2" y1="315.4" x2="612.2" y2="325.5" stroke="#111" stroke-width="0.9"/><line x1="610.3000000000001" y1="315.4" x2="614.1" y2="315.4" stroke="#111" stroke-width="0.9"/><line x1="610.3000000000001" y1="325.5" x2="614.1" y2="325.5" stroke="#111" stroke-width="0.9"/><circle cx="612.2" cy="320.9" r="2.45" fill="none" stroke="#111" stroke-width="1.0"/>
<line x1="481.5" y1="415.5" x2="481.5" y2="421.5" stroke="#111" stroke-width="0.9"/><line x1="479.6" y1="415.5" x2="483.4" y2="415.5" stroke="#111" stroke-width="0.9"/><line x1="479.6" y1="421.5" x2="483.4" y2="421.5" stroke="#111" stroke-width="0.9"/><circle cx="481.5" cy="418.5" r="2.45" fill="none" stroke="#111" stroke-width="1.0"/>
<line x1="496" y1="406.5" x2="496" y2="412.5" stroke="#111" stroke-width="0.9"/><line x1="494.1" y1="406.5" x2="497.9" y2="406.5" stroke="#111" stroke-width="0.9"/><line x1="494.1" y1="412.5" x2="497.9" y2="412.5" stroke="#111" stroke-width="0.9"/><circle cx="496" cy="409.5" r="2.45" fill="none" stroke="#111" stroke-width="1.0"/>
<line x1="518.3" y1="396.5" x2="518.3" y2="403.5" stroke="#111" stroke-width="0.9"/><line x1="516.4" y1="396.5" x2="520.1999999999999" y2="396.5" stroke="#111" stroke-width="0.9"/><line x1="516.4" y1="403.5" x2="520.1999999999999" y2="403.5" stroke="#111" stroke-width="0.9"/><circle cx="518.3" cy="400" r="2.45" fill="none" stroke="#111" stroke-width="1.0"/>
<line x1="519" y1="401" x2="519" y2="407" stroke="#111" stroke-width="0.9"/><line x1="517.1" y1="401" x2="520.9" y2="401" stroke="#111" stroke-width="0.9"/><line x1="517.1" y1="407" x2="520.9" y2="407" stroke="#111" stroke-width="0.9"/><circle cx="519" cy="404" r="2.45" fill="none" stroke="#111" stroke-width="1.0"/>
<line x1="524.8" y1="403" x2="524.8" y2="409" stroke="#111" stroke-width="0.9"/><line x1="522.9" y1="403" x2="526.6999999999999" y2="403" stroke="#111" stroke-width="0.9"/><line x1="522.9" y1="409" x2="526.6999999999999" y2="409" stroke="#111" stroke-width="0.9"/><circle cx="524.8" cy="406" r="2.45" fill="none" stroke="#111" stroke-width="1.0"/>
<line x1="545.4" y1="386.4" x2="545.4" y2="392.4" stroke="#111" stroke-width="0.9"/><line x1="543.5" y1="386.4" x2="547.3" y2="386.4" stroke="#111" stroke-width="0.9"/><line x1="543.5" y1="392.4" x2="547.3" y2="392.4" stroke="#111" stroke-width="0.9"/><circle cx="545.4" cy="389.4" r="2.45" fill="none" stroke="#111" stroke-width="1.0"/>
<line x1="544.8" y1="390" x2="544.8" y2="396" stroke="#111" stroke-width="0.9"/><line x1="542.9" y1="390" x2="546.6999999999999" y2="390" stroke="#111" stroke-width="0.9"/><line x1="542.9" y1="396" x2="546.6999999999999" y2="396" stroke="#111" stroke-width="0.9"/><circle cx="544.8" cy="393" r="2.45" fill="none" stroke="#111" stroke-width="1.0"/>
<line x1="561.5" y1="401" x2="561.5" y2="407" stroke="#111" stroke-width="0.9"/><line x1="559.6" y1="401" x2="563.4" y2="401" stroke="#111" stroke-width="0.9"/><line x1="559.6" y1="407" x2="563.4" y2="407" stroke="#111" stroke-width="0.9"/><circle cx="561.5" cy="404" r="2.45" fill="none" stroke="#111" stroke-width="1.0"/>
<line x1="572.2" y1="372.0" x2="572.2" y2="379.0" stroke="#111" stroke-width="0.9"/><line x1="570.3000000000001" y1="372.0" x2="574.1" y2="372.0" stroke="#111" stroke-width="0.9"/><line x1="570.3000000000001" y1="379.0" x2="574.1" y2="379.0" stroke="#111" stroke-width="0.9"/><circle cx="572.2" cy="375.5" r="2.45" fill="none" stroke="#111" stroke-width="1.0"/>
<line x1="572.6" y1="376.3" x2="572.6" y2="382.7" stroke="#111" stroke-width="0.9"/><line x1="570.7" y1="376.3" x2="574.5" y2="376.3" stroke="#111" stroke-width="0.9"/><line x1="570.7" y1="382.7" x2="574.5" y2="382.7" stroke="#111" stroke-width="0.9"/><circle cx="572.6" cy="379.5" r="2.45" fill="none" stroke="#111" stroke-width="1.0"/>
<line x1="572" y1="380" x2="572" y2="386" stroke="#111" stroke-width="0.9"/><line x1="570.1" y1="380" x2="573.9" y2="380" stroke="#111" stroke-width="0.9"/><line x1="570.1" y1="386" x2="573.9" y2="386" stroke="#111" stroke-width="0.9"/><circle cx="572" cy="383" r="2.45" fill="none" stroke="#111" stroke-width="1.0"/>
<line x1="597" y1="388" x2="597" y2="394" stroke="#111" stroke-width="0.9"/><line x1="595.1" y1="388" x2="598.9" y2="388" stroke="#111" stroke-width="0.9"/><line x1="595.1" y1="394" x2="598.9" y2="394" stroke="#111" stroke-width="0.9"/><circle cx="597" cy="391" r="2.45" fill="none" stroke="#111" stroke-width="1.0"/>
<line x1="611.6" y1="326.5" x2="611.6" y2="334.5" stroke="#111" stroke-width="0.9"/><line x1="609.7" y1="326.5" x2="613.5" y2="326.5" stroke="#111" stroke-width="0.9"/><line x1="609.7" y1="334.5" x2="613.5" y2="334.5" stroke="#111" stroke-width="0.9"/><circle cx="611.6" cy="330.5" r="2.45" fill="none" stroke="#111" stroke-width="1.0"/>
<line x1="612.9" y1="331" x2="612.9" y2="339" stroke="#111" stroke-width="0.9"/><line x1="611.0" y1="331" x2="614.8" y2="331" stroke="#111" stroke-width="0.9"/><line x1="611.0" y1="339" x2="614.8" y2="339" stroke="#111" stroke-width="0.9"/><circle cx="612.9" cy="335" r="2.45" fill="none" stroke="#111" stroke-width="1.0"/>
</g>
<line x1="400" y1="449.5" x2="683.7" y2="449.5" stroke="#111" stroke-width="1.1"/>
</svg></body></html>
